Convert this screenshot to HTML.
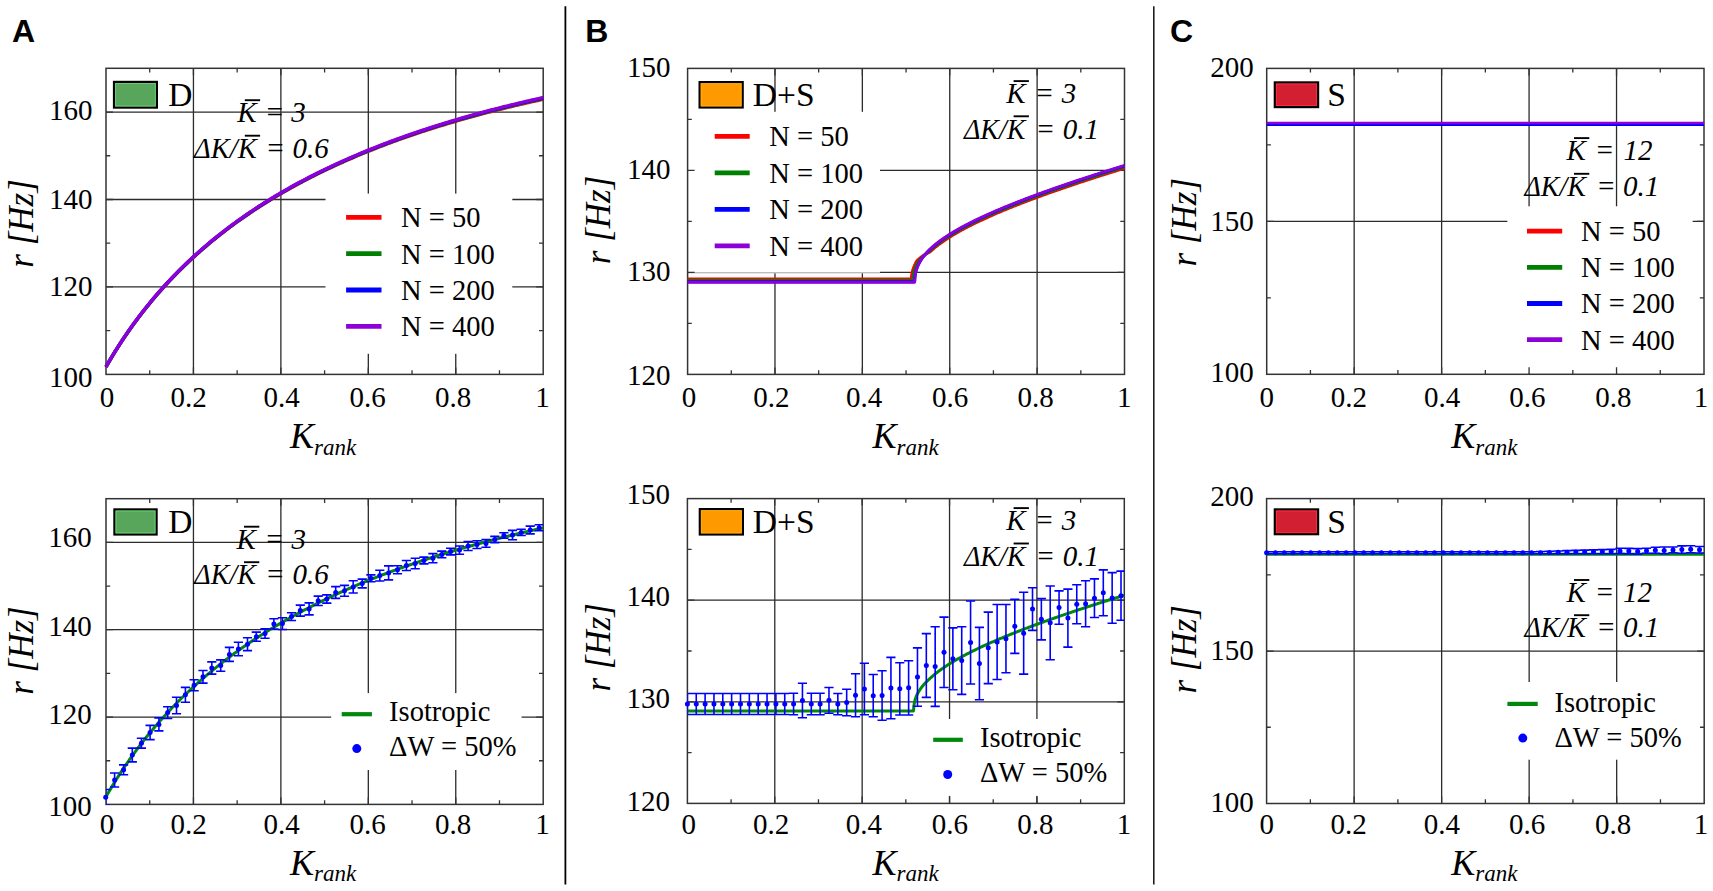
<!DOCTYPE html>
<html><head><meta charset="utf-8"><title>Figure</title>
<style>html,body{margin:0;padding:0;background:#fff;}svg{display:block;}</style></head>
<body><svg width="1713" height="891" viewBox="0 0 1713 891">
<rect x="0" y="0" width="1713" height="891" fill="#fff"/>
<line x1="565.4" y1="6.2" x2="565.4" y2="884.5" stroke="#000" stroke-width="1.8"/>
<line x1="1153.8" y1="6.2" x2="1153.8" y2="884.5" stroke="#111" stroke-width="1.5"/>
<text x="12.00" y="42.00" font-family="'Liberation Sans',Arial,sans-serif" font-size="32" text-anchor="start" font-weight="bold" style="" >A</text>
<text x="585.30" y="42.00" font-family="'Liberation Sans',Arial,sans-serif" font-size="32" text-anchor="start" font-weight="bold" style="" >B</text>
<text x="1170.00" y="42.00" font-family="'Liberation Sans',Arial,sans-serif" font-size="32" text-anchor="start" font-weight="bold" style="" >C</text>
<line x1="193.44" y1="68.30" x2="193.44" y2="374.40" stroke="#2b2b2b" stroke-width="1.3"/>
<line x1="280.88" y1="68.30" x2="280.88" y2="374.40" stroke="#2b2b2b" stroke-width="1.3"/>
<line x1="368.32" y1="68.30" x2="368.32" y2="374.40" stroke="#2b2b2b" stroke-width="1.3"/>
<line x1="455.76" y1="68.30" x2="455.76" y2="374.40" stroke="#2b2b2b" stroke-width="1.3"/>
<line x1="106.00" y1="286.94" x2="543.20" y2="286.94" stroke="#2b2b2b" stroke-width="1.3"/>
<line x1="106.00" y1="199.49" x2="543.20" y2="199.49" stroke="#2b2b2b" stroke-width="1.3"/>
<line x1="106.00" y1="112.03" x2="543.20" y2="112.03" stroke="#2b2b2b" stroke-width="1.3"/>
<rect x="325.50" y="193.60" width="186.80" height="160.20" fill="#fff"/>
<path d="M149.72,68.30v4.2M149.72,374.40v-4.2M237.16,68.30v4.2M237.16,374.40v-4.2M324.60,68.30v4.2M324.60,374.40v-4.2M412.04,68.30v4.2M412.04,374.40v-4.2M499.48,68.30v4.2M499.48,374.40v-4.2M106.00,330.67h4.2M543.20,330.67h-4.2M106.00,243.21h4.2M543.20,243.21h-4.2M106.00,155.76h4.2M543.20,155.76h-4.2M193.44,68.30v7.0M193.44,374.40v-7.0M280.88,68.30v7.0M280.88,374.40v-7.0M368.32,68.30v7.0M368.32,374.40v-7.0M455.76,68.30v7.0M455.76,374.40v-7.0M106.00,286.94h7.0M543.20,286.94h-7.0M106.00,199.49h7.0M543.20,199.49h-7.0M106.00,112.03h7.0M543.20,112.03h-7.0" stroke="#333" stroke-width="1.3" fill="none"/>
<rect x="106.00" y="68.30" width="437.20" height="306.10" fill="none" stroke="#333" stroke-width="1.5"/>
<polyline points="106.00,366.99 107.82,363.83 109.64,360.72 111.47,357.67 113.29,354.67 115.11,351.72 116.93,348.82 118.75,345.96 120.57,343.14 122.39,340.38 124.22,337.65 126.04,334.97 127.86,332.32 129.68,329.72 131.50,327.15 133.32,324.62 135.15,322.13 136.97,319.67 138.79,317.25 140.61,314.86 142.43,312.50 144.25,310.18 146.08,307.89 147.90,305.63 149.72,303.39 151.54,301.19 153.36,299.02 155.19,296.87 157.01,294.75 158.83,292.66 160.65,290.60 162.47,288.56 164.29,286.54 166.12,284.55 167.94,282.59 169.76,280.64 171.58,278.72 173.40,276.83 175.22,274.95 177.05,273.10 178.87,271.27 180.69,269.46 182.51,267.67 184.33,265.90 186.15,264.15 187.98,262.42 189.80,260.71 191.62,259.02 193.44,257.34 195.26,255.68 197.08,254.05 198.91,252.43 200.73,250.82 202.55,249.23 204.37,247.66 206.19,246.11 208.01,244.57 209.84,243.05 211.66,241.54 213.48,240.05 215.30,238.57 217.12,237.11 218.94,235.66 220.77,234.23 222.59,232.81 224.41,231.40 226.23,230.01 228.05,228.63 229.87,227.26 231.69,225.91 233.52,224.57 235.34,223.24 237.16,221.93 238.98,220.63 240.80,219.34 242.62,218.06 244.45,216.79 246.27,215.53 248.09,214.29 249.91,213.06 251.73,211.83 253.56,210.62 255.38,209.42 257.20,208.23 259.02,207.05 260.84,205.88 262.66,204.73 264.49,203.58 266.31,202.44 268.13,201.31 269.95,200.19 271.77,199.08 273.59,197.98 275.42,196.89 277.24,195.81 279.06,194.73 280.88,193.67 282.70,192.61 284.52,191.57 286.35,190.53 288.17,189.50 289.99,188.48 291.81,187.46 293.63,186.46 295.45,185.46 297.28,184.47 299.10,183.49 300.92,182.52 302.74,181.56 304.56,180.60 306.38,179.65 308.21,178.71 310.03,177.77 311.85,176.84 313.67,175.92 315.49,175.01 317.31,174.10 319.13,173.20 320.96,172.31 322.78,171.42 324.60,170.54 326.42,169.67 328.24,168.81 330.06,167.95 331.89,167.09 333.71,166.25 335.53,165.41 337.35,164.57 339.17,163.75 341.00,162.92 342.82,162.11 344.64,161.30 346.46,160.50 348.28,159.70 350.10,158.91 351.93,158.12 353.75,157.34 355.57,156.56 357.39,155.79 359.21,155.03 361.03,154.27 362.86,153.52 364.68,152.77 366.50,152.03 368.32,151.29 370.14,150.56 371.96,149.84 373.79,149.11 375.61,148.40 377.43,147.69 379.25,146.98 381.07,146.28 382.89,145.58 384.72,144.89 386.54,144.20 388.36,143.52 390.18,142.84 392.00,142.17 393.82,141.50 395.65,140.84 397.47,140.18 399.29,139.52 401.11,138.87 402.93,138.23 404.75,137.59 406.58,136.95 408.40,136.32 410.22,135.69 412.04,135.06 413.86,134.44 415.68,133.83 417.51,133.22 419.33,132.61 421.15,132.00 422.97,131.41 424.79,130.81 426.61,130.22 428.44,129.63 430.26,129.05 432.08,128.47 433.90,127.89 435.72,127.32 437.54,126.75 439.37,126.18 441.19,125.62 443.01,125.06 444.83,124.51 446.65,123.96 448.47,123.41 450.30,122.87 452.12,122.33 453.94,121.79 455.76,121.26 457.58,120.73 459.40,120.20 461.23,119.68 463.05,119.16 464.87,118.65 466.69,118.13 468.51,117.62 470.33,117.12 472.16,116.62 473.98,116.12 475.80,115.62 477.62,115.13 479.44,114.64 481.26,114.15 483.09,113.66 484.91,113.18 486.73,112.71 488.55,112.23 490.37,111.76 492.19,111.29 494.02,110.82 495.84,110.36 497.66,109.90 499.48,109.44 501.30,108.99 503.12,108.54 504.95,108.09 506.77,107.64 508.59,107.20 510.41,106.76 512.23,106.32 514.05,105.89 515.88,105.46 517.70,105.03 519.52,104.60 521.34,104.18 523.16,103.76 524.98,103.34 526.81,102.92 528.63,102.51 530.45,102.10 532.27,101.69 534.09,101.28 535.91,100.88 537.74,100.48 539.56,100.08 541.38,99.68 543.20,99.29" fill="none" stroke="#ff0000" stroke-width="3.4" stroke-linejoin="round" stroke-linecap="butt"/>
<polyline points="106.00,366.89 107.82,363.73 109.64,360.62 111.47,357.56 113.29,354.56 115.11,351.61 116.93,348.70 118.75,345.84 120.57,343.02 122.39,340.25 124.22,337.53 126.04,334.84 127.86,332.19 129.68,329.58 131.50,327.02 133.32,324.48 135.15,321.99 136.97,319.53 138.79,317.10 140.61,314.71 142.43,312.35 144.25,310.03 146.08,307.73 147.90,305.47 149.72,303.23 151.54,301.03 153.36,298.85 155.19,296.70 157.01,294.58 158.83,292.49 160.65,290.42 162.47,288.38 164.29,286.36 166.12,284.37 167.94,282.40 169.76,280.46 171.58,278.53 173.40,276.64 175.22,274.76 177.05,272.90 178.87,271.07 180.69,269.26 182.51,267.46 184.33,265.69 186.15,263.94 187.98,262.21 189.80,260.49 191.62,258.80 193.44,257.12 195.26,255.46 197.08,253.82 198.91,252.20 200.73,250.59 202.55,249.00 204.37,247.43 206.19,245.87 208.01,244.33 209.84,242.81 211.66,241.30 213.48,239.80 215.30,238.32 217.12,236.86 218.94,235.41 220.77,233.97 222.59,232.55 224.41,231.14 226.23,229.74 228.05,228.36 229.87,226.99 231.69,225.64 233.52,224.30 235.34,222.97 237.16,221.65 238.98,220.34 240.80,219.05 242.62,217.77 244.45,216.50 246.27,215.24 248.09,213.99 249.91,212.76 251.73,211.53 253.56,210.32 255.38,209.12 257.20,207.93 259.02,206.74 260.84,205.57 262.66,204.41 264.49,203.26 266.31,202.12 268.13,200.99 269.95,199.86 271.77,198.75 273.59,197.65 275.42,196.55 277.24,195.47 279.06,194.39 280.88,193.33 282.70,192.27 284.52,191.22 286.35,190.18 288.17,189.15 289.99,188.12 291.81,187.11 293.63,186.10 295.45,185.10 297.28,184.11 299.10,183.13 300.92,182.15 302.74,181.19 304.56,180.23 306.38,179.27 308.21,178.33 310.03,177.39 311.85,176.46 313.67,175.54 315.49,174.62 317.31,173.71 319.13,172.81 320.96,171.91 322.78,171.03 324.60,170.14 326.42,169.27 328.24,168.40 330.06,167.54 331.89,166.68 333.71,165.84 335.53,164.99 337.35,164.16 339.17,163.33 341.00,162.50 342.82,161.68 344.64,160.87 346.46,160.07 348.28,159.27 350.10,158.47 351.93,157.68 353.75,156.90 355.57,156.12 357.39,155.35 359.21,154.58 361.03,153.82 362.86,153.07 364.68,152.32 366.50,151.57 368.32,150.83 370.14,150.10 371.96,149.37 373.79,148.65 375.61,147.93 377.43,147.21 379.25,146.50 381.07,145.80 382.89,145.10 384.72,144.41 386.54,143.72 388.36,143.03 390.18,142.35 392.00,141.68 393.82,141.01 395.65,140.34 397.47,139.68 399.29,139.02 401.11,138.37 402.93,137.72 404.75,137.08 406.58,136.44 408.40,135.80 410.22,135.17 412.04,134.54 413.86,133.92 415.68,133.30 417.51,132.69 419.33,132.08 421.15,131.47 422.97,130.87 424.79,130.27 426.61,129.68 428.44,129.09 430.26,128.50 432.08,127.92 433.90,127.34 435.72,126.76 437.54,126.19 439.37,125.63 441.19,125.06 443.01,124.50 444.83,123.94 446.65,123.39 448.47,122.84 450.30,122.30 452.12,121.75 453.94,121.22 455.76,120.68 457.58,120.15 459.40,119.62 461.23,119.09 463.05,118.57 464.87,118.05 466.69,117.54 468.51,117.03 470.33,116.52 472.16,116.01 473.98,115.51 475.80,115.01 477.62,114.52 479.44,114.02 481.26,113.53 483.09,113.05 484.91,112.56 486.73,112.08 488.55,111.61 490.37,111.13 492.19,110.66 494.02,110.19 495.84,109.73 497.66,109.26 499.48,108.80 501.30,108.35 503.12,107.89 504.95,107.44 506.77,106.99 508.59,106.55 510.41,106.11 512.23,105.67 514.05,105.23 515.88,104.79 517.70,104.36 519.52,103.93 521.34,103.51 523.16,103.08 524.98,102.66 526.81,102.24 528.63,101.83 530.45,101.41 532.27,101.00 534.09,100.59 535.91,100.19 537.74,99.79 539.56,99.38 541.38,98.99 543.20,98.59" fill="none" stroke="#008000" stroke-width="3.4" stroke-linejoin="round" stroke-linecap="butt"/>
<polyline points="106.00,366.79 107.82,363.62 109.64,360.52 111.47,357.46 113.29,354.45 115.11,351.50 116.93,348.59 118.75,345.73 120.57,342.91 122.39,340.14 124.22,337.41 126.04,334.72 127.86,332.07 129.68,329.46 131.50,326.89 133.32,324.36 135.15,321.86 136.97,319.40 138.79,316.97 140.61,314.58 142.43,312.22 144.25,309.89 146.08,307.60 147.90,305.33 149.72,303.09 151.54,300.89 153.36,298.71 155.19,296.56 157.01,294.44 158.83,292.34 160.65,290.27 162.47,288.23 164.29,286.21 166.12,284.21 167.94,282.24 169.76,280.30 171.58,278.37 173.40,276.47 175.22,274.60 177.05,272.74 178.87,270.90 180.69,269.09 182.51,267.29 184.33,265.52 186.15,263.77 187.98,262.03 189.80,260.32 191.62,258.62 193.44,256.94 195.26,255.28 197.08,253.64 198.91,252.01 200.73,250.40 202.55,248.81 204.37,247.24 206.19,245.68 208.01,244.14 209.84,242.61 211.66,241.10 213.48,239.60 215.30,238.12 217.12,236.65 218.94,235.20 220.77,233.76 222.59,232.34 224.41,230.93 226.23,229.53 228.05,228.15 229.87,226.78 231.69,225.42 233.52,224.08 235.34,222.75 237.16,221.43 238.98,220.12 240.80,218.83 242.62,217.54 244.45,216.27 246.27,215.01 248.09,213.76 249.91,212.53 251.73,211.30 253.56,210.09 255.38,208.88 257.20,207.69 259.02,206.50 260.84,205.33 262.66,204.17 264.49,203.01 266.31,201.87 268.13,200.74 269.95,199.61 271.77,198.50 273.59,197.40 275.42,196.30 277.24,195.21 279.06,194.14 280.88,193.07 282.70,192.01 284.52,190.96 286.35,189.92 288.17,188.88 289.99,187.86 291.81,186.84 293.63,185.83 295.45,184.83 297.28,183.84 299.10,182.85 300.92,181.88 302.74,180.91 304.56,179.94 306.38,178.99 308.21,178.04 310.03,177.10 311.85,176.17 313.67,175.25 315.49,174.33 317.31,173.42 319.13,172.51 320.96,171.62 322.78,170.73 324.60,169.84 326.42,168.97 328.24,168.10 330.06,167.23 331.89,166.38 333.71,165.53 335.53,164.68 337.35,163.84 339.17,163.01 341.00,162.19 342.82,161.37 344.64,160.55 346.46,159.75 348.28,158.94 350.10,158.15 351.93,157.36 353.75,156.57 355.57,155.79 357.39,155.02 359.21,154.25 361.03,153.49 362.86,152.73 364.68,151.98 366.50,151.23 368.32,150.49 370.14,149.76 371.96,149.03 373.79,148.30 375.61,147.58 377.43,146.87 379.25,146.15 381.07,145.45 382.89,144.75 384.72,144.05 386.54,143.36 388.36,142.67 390.18,141.99 392.00,141.32 393.82,140.64 395.65,139.98 397.47,139.31 399.29,138.65 401.11,138.00 402.93,137.35 404.75,136.70 406.58,136.06 408.40,135.43 410.22,134.79 412.04,134.16 413.86,133.54 415.68,132.92 417.51,132.30 419.33,131.69 421.15,131.08 422.97,130.48 424.79,129.88 426.61,129.28 428.44,128.69 430.26,128.10 432.08,127.52 433.90,126.94 435.72,126.36 437.54,125.79 439.37,125.22 441.19,124.65 443.01,124.09 444.83,123.53 446.65,122.98 448.47,122.43 450.30,121.88 452.12,121.34 453.94,120.80 455.76,120.26 457.58,119.73 459.40,119.20 461.23,118.67 463.05,118.15 464.87,117.63 466.69,117.11 468.51,116.60 470.33,116.09 472.16,115.58 473.98,115.07 475.80,114.57 477.62,114.08 479.44,113.58 481.26,113.09 483.09,112.60 484.91,112.12 486.73,111.64 488.55,111.16 490.37,110.68 492.19,110.21 494.02,109.74 495.84,109.27 497.66,108.81 499.48,108.34 501.30,107.89 503.12,107.43 504.95,106.98 506.77,106.53 508.59,106.08 510.41,105.64 512.23,105.19 514.05,104.76 515.88,104.32 517.70,103.89 519.52,103.46 521.34,103.03 523.16,102.60 524.98,102.18 526.81,101.76 528.63,101.34 530.45,100.93 532.27,100.51 534.09,100.10 535.91,99.70 537.74,99.29 539.56,98.89 541.38,98.49 543.20,98.09" fill="none" stroke="#0000ff" stroke-width="3.4" stroke-linejoin="round" stroke-linecap="butt"/>
<polyline points="106.00,366.69 107.82,363.52 109.64,360.41 111.47,357.35 113.29,354.35 115.11,351.39 116.93,348.48 118.75,345.62 120.57,342.80 122.39,340.02 124.22,337.29 126.04,334.60 127.86,331.95 129.68,329.34 131.50,326.77 133.32,324.23 135.15,321.74 136.97,319.27 138.79,316.84 140.61,314.45 142.43,312.09 144.25,309.76 146.08,307.46 147.90,305.19 149.72,302.95 151.54,300.75 153.36,298.57 155.19,296.41 157.01,294.29 158.83,292.19 160.65,290.12 162.47,288.08 164.29,286.06 166.12,284.06 167.94,282.09 169.76,280.14 171.58,278.21 173.40,276.31 175.22,274.43 177.05,272.57 178.87,270.74 180.69,268.92 182.51,267.12 184.33,265.35 186.15,263.59 187.98,261.86 189.80,260.14 191.62,258.44 193.44,256.76 195.26,255.10 197.08,253.45 198.91,251.83 200.73,250.22 202.55,248.62 204.37,247.05 206.19,245.49 208.01,243.94 209.84,242.42 211.66,240.90 213.48,239.40 215.30,237.92 217.12,236.45 218.94,235.00 220.77,233.56 222.59,232.13 224.41,230.72 226.23,229.32 228.05,227.94 229.87,226.57 231.69,225.21 233.52,223.86 235.34,222.53 237.16,221.21 238.98,219.90 240.80,218.60 242.62,217.32 244.45,216.05 246.27,214.78 248.09,213.53 249.91,212.30 251.73,211.07 253.56,209.85 255.38,208.64 257.20,207.45 259.02,206.26 260.84,205.09 262.66,203.92 264.49,202.77 266.31,201.62 268.13,200.49 269.95,199.36 271.77,198.25 273.59,197.14 275.42,196.04 277.24,194.96 279.06,193.88 280.88,192.81 282.70,191.75 284.52,190.69 286.35,189.65 288.17,188.61 289.99,187.59 291.81,186.57 293.63,185.56 295.45,184.56 297.28,183.56 299.10,182.58 300.92,181.60 302.74,180.63 304.56,179.66 306.38,178.71 308.21,177.76 310.03,176.82 311.85,175.88 313.67,174.96 315.49,174.04 317.31,173.13 319.13,172.22 320.96,171.32 322.78,170.43 324.60,169.54 326.42,168.67 328.24,167.79 330.06,166.93 331.89,166.07 333.71,165.22 335.53,164.37 337.35,163.53 339.17,162.70 341.00,161.87 342.82,161.05 344.64,160.24 346.46,159.43 348.28,158.62 350.10,157.82 351.93,157.03 353.75,156.25 355.57,155.47 357.39,154.69 359.21,153.92 361.03,153.16 362.86,152.40 364.68,151.64 366.50,150.90 368.32,150.15 370.14,149.42 371.96,148.68 373.79,147.96 375.61,147.23 377.43,146.52 379.25,145.80 381.07,145.10 382.89,144.39 384.72,143.70 386.54,143.00 388.36,142.32 390.18,141.63 392.00,140.95 393.82,140.28 395.65,139.61 397.47,138.95 399.29,138.29 401.11,137.63 402.93,136.98 404.75,136.33 406.58,135.69 408.40,135.05 410.22,134.41 412.04,133.78 413.86,133.16 415.68,132.54 417.51,131.92 419.33,131.31 421.15,130.70 422.97,130.09 424.79,129.49 426.61,128.89 428.44,128.30 430.26,127.71 432.08,127.12 433.90,126.54 435.72,125.96 437.54,125.39 439.37,124.82 441.19,124.25 443.01,123.68 444.83,123.12 446.65,122.57 448.47,122.02 450.30,121.47 452.12,120.92 453.94,120.38 455.76,119.84 457.58,119.30 459.40,118.77 461.23,118.24 463.05,117.72 464.87,117.20 466.69,116.68 468.51,116.16 470.33,115.65 472.16,115.14 473.98,114.64 475.80,114.14 477.62,113.64 479.44,113.14 481.26,112.65 483.09,112.16 484.91,111.67 486.73,111.19 488.55,110.71 490.37,110.23 492.19,109.75 494.02,109.28 495.84,108.81 497.66,108.35 499.48,107.88 501.30,107.42 503.12,106.97 504.95,106.51 506.77,106.06 508.59,105.61 510.41,105.17 512.23,104.72 514.05,104.28 515.88,103.84 517.70,103.41 519.52,102.98 521.34,102.55 523.16,102.12 524.98,101.70 526.81,101.27 528.63,100.85 530.45,100.44 532.27,100.02 534.09,99.61 535.91,99.20 537.74,98.80 539.56,98.39 541.38,97.99 543.20,97.59" fill="none" stroke="#8e00d8" stroke-width="3.4" stroke-linejoin="round" stroke-linecap="butt"/>
<rect x="114.00" y="81.90" width="42.90" height="25.70" fill="#58a65c" stroke="#000" stroke-width="2.2"/>
<rect x="115.60" y="83.50" width="39.70" height="22.50" fill="none" stroke="#68cf6e" stroke-width="1"/>
<text x="168.20" y="106.00" font-family="'Liberation Serif','Times New Roman',serif" font-size="33.5" text-anchor="start" font-weight="normal" style="" >D</text>
<text x="256.70" y="122.40" font-family="'Liberation Serif','Times New Roman',serif" font-size="29" text-anchor="end" font-weight="normal" style="font-style:italic;" >K</text>
<text x="256.70" y="157.90" font-family="'Liberation Serif','Times New Roman',serif" font-size="29" text-anchor="end" style="font-style:italic" textLength="62.6" lengthAdjust="spacingAndGlyphs">&#916;K/K</text>
<line x1="244.80" y1="100.20" x2="260.10" y2="100.20" stroke="#000" stroke-width="1.9"/>
<line x1="244.80" y1="135.70" x2="260.10" y2="135.70" stroke="#000" stroke-width="1.9"/>
<text x="264.70" y="122.40" font-family="'Liberation Serif','Times New Roman',serif" font-size="29" text-anchor="start" font-weight="normal" style="font-style:italic;" >=</text>
<text x="265.40" y="157.90" font-family="'Liberation Serif','Times New Roman',serif" font-size="29" text-anchor="start" font-weight="normal" style="font-style:italic;" >=</text>
<text x="291.30" y="122.40" font-family="'Liberation Serif','Times New Roman',serif" font-size="29" text-anchor="start" font-weight="normal" style="font-style:italic;" >3</text>
<text x="292.60" y="157.90" font-family="'Liberation Serif','Times New Roman',serif" font-size="29" text-anchor="start" font-weight="normal" style="font-style:italic;" >0.6</text>
<line x1="346.10" y1="217.40" x2="381.50" y2="217.40" stroke="#ff0000" stroke-width="4.8"/>
<text x="401.00" y="227.30" font-family="'Liberation Serif','Times New Roman',serif" font-size="28.5" text-anchor="start" font-weight="normal" style="" >N = 50</text>
<line x1="346.10" y1="253.70" x2="381.50" y2="253.70" stroke="#008000" stroke-width="4.8"/>
<text x="401.00" y="263.60" font-family="'Liberation Serif','Times New Roman',serif" font-size="28.5" text-anchor="start" font-weight="normal" style="" >N = 100</text>
<line x1="346.10" y1="290.00" x2="381.50" y2="290.00" stroke="#0000ff" stroke-width="4.8"/>
<text x="401.00" y="299.90" font-family="'Liberation Serif','Times New Roman',serif" font-size="28.5" text-anchor="start" font-weight="normal" style="" >N = 200</text>
<line x1="346.10" y1="326.30" x2="381.50" y2="326.30" stroke="#8e00d8" stroke-width="4.8"/>
<text x="401.00" y="336.20" font-family="'Liberation Serif','Times New Roman',serif" font-size="28.5" text-anchor="start" font-weight="normal" style="" >N = 400</text>
<text x="92.40" y="119.90" font-family="'Liberation Serif','Times New Roman',serif" font-size="29" text-anchor="end" font-weight="normal" style="" >160</text>
<text x="92.40" y="208.90" font-family="'Liberation Serif','Times New Roman',serif" font-size="29" text-anchor="end" font-weight="normal" style="" >140</text>
<text x="92.40" y="296.10" font-family="'Liberation Serif','Times New Roman',serif" font-size="29" text-anchor="end" font-weight="normal" style="" >120</text>
<text x="92.40" y="386.70" font-family="'Liberation Serif','Times New Roman',serif" font-size="29" text-anchor="end" font-weight="normal" style="" >100</text>
<text x="106.90" y="406.50" font-family="'Liberation Serif','Times New Roman',serif" font-size="29" text-anchor="middle" font-weight="normal" style="" >0</text>
<text x="188.60" y="406.50" font-family="'Liberation Serif','Times New Roman',serif" font-size="29" text-anchor="middle" font-weight="normal" style="" >0.2</text>
<text x="281.70" y="406.50" font-family="'Liberation Serif','Times New Roman',serif" font-size="29" text-anchor="middle" font-weight="normal" style="" >0.4</text>
<text x="367.50" y="406.50" font-family="'Liberation Serif','Times New Roman',serif" font-size="29" text-anchor="middle" font-weight="normal" style="" >0.6</text>
<text x="453.20" y="406.50" font-family="'Liberation Serif','Times New Roman',serif" font-size="29" text-anchor="middle" font-weight="normal" style="" >0.8</text>
<text x="542.40" y="406.50" font-family="'Liberation Serif','Times New Roman',serif" font-size="29" text-anchor="middle" font-weight="normal" style="" >1</text>
<text x="323.20" y="448.40" font-family="'Liberation Serif','Times New Roman',serif" font-size="36" text-anchor="middle" style="font-style:italic">K<tspan font-size="23" dy="6.4">rank</tspan></text>
<text transform="translate(32.90,223.40) rotate(-90)" x="0" y="0" font-family="'Liberation Serif','Times New Roman',serif" font-size="35" text-anchor="middle" style="font-style:italic">r [Hz]</text>
<line x1="193.44" y1="498.70" x2="193.44" y2="804.40" stroke="#2b2b2b" stroke-width="1.3"/>
<line x1="280.88" y1="498.70" x2="280.88" y2="804.40" stroke="#2b2b2b" stroke-width="1.3"/>
<line x1="368.32" y1="498.70" x2="368.32" y2="804.40" stroke="#2b2b2b" stroke-width="1.3"/>
<line x1="455.76" y1="498.70" x2="455.76" y2="804.40" stroke="#2b2b2b" stroke-width="1.3"/>
<line x1="106.00" y1="717.06" x2="543.20" y2="717.06" stroke="#2b2b2b" stroke-width="1.3"/>
<line x1="106.00" y1="629.71" x2="543.20" y2="629.71" stroke="#2b2b2b" stroke-width="1.3"/>
<line x1="106.00" y1="542.37" x2="543.20" y2="542.37" stroke="#2b2b2b" stroke-width="1.3"/>
<rect x="331.20" y="693.10" width="190.40" height="76.90" fill="#fff"/>
<path d="M149.72,498.70v4.2M149.72,804.40v-4.2M237.16,498.70v4.2M237.16,804.40v-4.2M324.60,498.70v4.2M324.60,804.40v-4.2M412.04,498.70v4.2M412.04,804.40v-4.2M499.48,498.70v4.2M499.48,804.40v-4.2M106.00,760.73h4.2M543.20,760.73h-4.2M106.00,673.39h4.2M543.20,673.39h-4.2M106.00,586.04h4.2M543.20,586.04h-4.2M193.44,498.70v7.0M193.44,804.40v-7.0M280.88,498.70v7.0M280.88,804.40v-7.0M368.32,498.70v7.0M368.32,804.40v-7.0M455.76,498.70v7.0M455.76,804.40v-7.0M106.00,717.06h7.0M543.20,717.06h-7.0M106.00,629.71h7.0M543.20,629.71h-7.0M106.00,542.37h7.0M543.20,542.37h-7.0" stroke="#333" stroke-width="1.3" fill="none"/>
<rect x="106.00" y="498.70" width="437.20" height="305.70" fill="none" stroke="#333" stroke-width="1.5"/>
<polyline points="106.00,796.70 107.82,793.54 109.64,790.43 111.47,787.38 113.29,784.37 115.11,781.42 116.93,778.51 118.75,775.65 120.57,772.84 122.39,770.07 124.22,767.34 126.04,764.65 127.86,762.01 129.68,759.40 131.50,756.83 133.32,754.30 135.15,751.80 136.97,749.34 138.79,746.92 140.61,744.53 142.43,742.17 144.25,739.84 146.08,737.55 147.90,735.28 149.72,733.05 151.54,730.84 153.36,728.67 155.19,726.52 157.01,724.39 158.83,722.30 160.65,720.23 162.47,718.19 164.29,716.17 166.12,714.18 167.94,712.21 169.76,710.26 171.58,708.34 173.40,706.44 175.22,704.56 177.05,702.71 178.87,700.87 180.69,699.06 182.51,697.26 184.33,695.49 186.15,693.74 187.98,692.00 189.80,690.29 191.62,688.59 193.44,686.91 195.26,685.26 197.08,683.61 198.91,681.99 200.73,680.38 202.55,678.79 204.37,677.21 206.19,675.66 208.01,674.11 209.84,672.59 211.66,671.08 213.48,669.58 215.30,668.10 217.12,666.63 218.94,665.18 220.77,663.74 222.59,662.32 224.41,660.91 226.23,659.51 228.05,658.13 229.87,656.76 231.69,655.40 233.52,654.06 235.34,652.73 237.16,651.41 238.98,650.10 240.80,648.81 242.62,647.52 244.45,646.25 246.27,644.99 248.09,643.74 249.91,642.51 251.73,641.28 253.56,640.07 255.38,638.86 257.20,637.67 259.02,636.48 260.84,635.31 262.66,634.15 264.49,632.99 266.31,631.85 268.13,630.72 269.95,629.59 271.77,628.48 273.59,627.37 275.42,626.28 277.24,625.19 279.06,624.11 280.88,623.05 282.70,621.99 284.52,620.93 286.35,619.89 288.17,618.86 289.99,617.83 291.81,616.81 293.63,615.81 295.45,614.80 297.28,613.81 299.10,612.83 300.92,611.85 302.74,610.88 304.56,609.92 306.38,608.96 308.21,608.02 310.03,607.08 311.85,606.14 313.67,605.22 315.49,604.30 317.31,603.39 319.13,602.48 320.96,601.59 322.78,600.70 324.60,599.81 326.42,598.94 328.24,598.06 330.06,597.20 331.89,596.34 333.71,595.49 335.53,594.65 337.35,593.81 339.17,592.98 341.00,592.15 342.82,591.33 344.64,590.51 346.46,589.71 348.28,588.90 350.10,588.11 351.93,587.32 353.75,586.53 355.57,585.75 357.39,584.98 359.21,584.21 361.03,583.45 362.86,582.69 364.68,581.94 366.50,581.19 368.32,580.45 370.14,579.71 371.96,578.98 373.79,578.25 375.61,577.53 377.43,576.81 379.25,576.10 381.07,575.40 382.89,574.70 384.72,574.00 386.54,573.31 388.36,572.62 390.18,571.94 392.00,571.26 393.82,570.59 395.65,569.92 397.47,569.25 399.29,568.59 401.11,567.94 402.93,567.29 404.75,566.64 406.58,566.00 408.40,565.36 410.22,564.73 412.04,564.10 413.86,563.47 415.68,562.85 417.51,562.24 419.33,561.62 421.15,561.01 422.97,560.41 424.79,559.81 426.61,559.21 428.44,558.62 430.26,558.03 432.08,557.44 433.90,556.86 435.72,556.29 437.54,555.71 439.37,555.14 441.19,554.57 443.01,554.01 444.83,553.45 446.65,552.90 448.47,552.35 450.30,551.80 452.12,551.25 453.94,550.71 455.76,550.17 457.58,549.64 459.40,549.11 461.23,548.58 463.05,548.05 464.87,547.53 466.69,547.02 468.51,546.50 470.33,545.99 472.16,545.48 473.98,544.98 475.80,544.48 477.62,543.98 479.44,543.48 481.26,542.99 483.09,542.50 484.91,542.01 486.73,541.53 488.55,541.05 490.37,540.57 492.19,540.10 494.02,539.63 495.84,539.16 497.66,538.70 499.48,538.23 501.30,537.77 503.12,537.32 504.95,536.86 506.77,536.41 508.59,535.96 510.41,535.52 512.23,535.08 514.05,534.64 515.88,534.20 517.70,533.76 519.52,533.33 521.34,532.90 523.16,532.48 524.98,532.05 526.81,531.63 528.63,531.21 530.45,530.80 532.27,530.38 534.09,529.97 535.91,529.56 537.74,529.16 539.56,528.75 541.38,528.35 543.20,527.95" fill="none" stroke="#00880a" stroke-width="3.0" stroke-linejoin="round" stroke-linecap="butt"/>
<clipPath id="clip1"><rect x="106.00" y="498.70" width="437.20" height="305.70"/></clipPath>
<path d="M105.70,789.50V804.90M101.10,789.50H110.30M101.10,804.90H110.30M114.60,773.00V787.00M110.00,773.00H119.20M110.00,787.00H119.20M123.60,764.90V774.70M119.00,764.90H128.20M119.00,774.70H128.20M132.30,748.10V761.90M127.70,748.10H136.90M127.70,761.90H136.90M141.40,738.30V748.10M136.80,738.30H146.00M136.80,748.10H146.00M150.10,725.40V739.60M145.50,725.40H154.70M145.50,739.60H154.70M158.90,717.90V730.90M154.30,717.90H163.50M154.30,730.90H163.50M167.70,706.70V718.50M163.10,706.70H172.30M163.10,718.50H172.30M176.50,697.30V713.70M171.90,697.30H181.10M171.90,713.70H181.10M185.40,687.40V702.20M180.80,687.40H190.00M180.80,702.20H190.00M194.10,679.80V690.80M189.50,679.80H198.70M189.50,690.80H198.70M203.00,670.50V683.10M198.40,670.50H207.60M198.40,683.10H207.60M211.80,661.90V674.10M207.20,661.90H216.40M207.20,674.10H216.40M220.70,659.90V671.30M216.10,659.90H225.30M216.10,671.30H225.30M229.40,647.40V661.40M224.80,647.40H234.00M224.80,661.40H234.00M238.40,642.20V655.80M233.80,642.20H243.00M233.80,655.80H243.00M247.50,637.80V650.60M242.90,637.80H252.10M242.90,650.60H252.10M256.30,632.10V641.30M251.70,632.10H260.90M251.70,641.30H260.90M265.00,628.90V638.30M260.40,628.90H269.60M260.40,638.30H269.60M273.90,618.80V629.00M269.30,618.80H278.50M269.30,629.00H278.50M282.40,617.70V629.50M277.80,617.70H287.00M277.80,629.50H287.00M291.50,612.70V620.50M286.90,612.70H296.10M286.90,620.50H296.10M300.30,605.10V616.10M295.70,605.10H304.90M295.70,616.10H304.90M309.10,602.90V614.90M304.50,602.90H313.70M304.50,614.90H313.70M318.20,596.10V605.50M313.60,596.10H322.80M313.60,605.50H322.80M326.80,594.90V603.10M322.20,594.90H331.40M322.20,603.10H331.40M335.70,586.60V598.40M331.10,586.60H340.30M331.10,598.40H340.30M344.50,585.40V596.20M339.90,585.40H349.10M339.90,596.20H349.10M353.20,580.80V593.00M348.60,580.80H357.80M348.60,593.00H357.80M362.20,579.10V587.90M357.60,579.10H366.80M357.60,587.90H366.80M370.90,574.90V581.70M366.30,574.90H375.50M366.30,581.70H375.50M379.80,570.20V581.00M375.20,570.20H384.40M375.20,581.00H384.40M388.60,565.90V579.90M384.00,565.90H393.20M384.00,579.90H393.20M397.50,565.80V573.80M392.90,565.80H402.10M392.90,573.80H402.10M406.40,560.50V570.50M401.80,560.50H411.00M401.80,570.50H411.00M415.20,558.30V568.70M410.60,558.30H419.80M410.60,568.70H419.80M423.90,557.10V563.90M419.30,557.10H428.50M419.30,563.90H428.50M432.90,553.60V562.80M428.30,553.60H437.50M428.30,562.80H437.50M441.80,551.10V557.70M437.20,551.10H446.40M437.20,557.70H446.40M450.60,548.30V554.90M446.00,548.30H455.20M446.00,554.90H455.20M459.50,546.00V554.20M454.90,546.00H464.10M454.90,554.20H464.10M468.10,541.50V550.50M463.50,541.50H472.70M463.50,550.50H472.70M477.00,540.70V548.50M472.40,540.70H481.60M472.40,548.50H481.60M486.00,539.60V547.20M481.40,539.60H490.60M481.40,547.20H490.60M494.80,536.40V542.60M490.20,536.40H499.40M490.20,542.60H499.40M503.90,532.70V538.30M499.30,532.70H508.50M499.30,538.30H508.50M512.50,530.40V539.80M507.90,530.40H517.10M507.90,539.80H517.10M521.20,529.30V535.50M516.60,529.30H525.80M516.60,535.50H525.80M530.20,526.10V533.90M525.60,526.10H534.80M525.60,533.90H534.80M539.20,524.70V530.70M534.60,524.70H543.80M534.60,530.70H543.80" stroke="#0000ff" stroke-width="1.6" fill="none" clip-path="url(#clip1)"/>
<circle cx="105.70" cy="797.20" r="2.5" fill="#0000ff"/>
<circle cx="114.60" cy="780.00" r="2.5" fill="#0000ff"/>
<circle cx="123.60" cy="769.80" r="2.5" fill="#0000ff"/>
<circle cx="132.30" cy="755.00" r="2.5" fill="#0000ff"/>
<circle cx="141.40" cy="743.20" r="2.5" fill="#0000ff"/>
<circle cx="150.10" cy="732.50" r="2.5" fill="#0000ff"/>
<circle cx="158.90" cy="724.40" r="2.5" fill="#0000ff"/>
<circle cx="167.70" cy="712.60" r="2.5" fill="#0000ff"/>
<circle cx="176.50" cy="705.50" r="2.5" fill="#0000ff"/>
<circle cx="185.40" cy="694.80" r="2.5" fill="#0000ff"/>
<circle cx="194.10" cy="685.30" r="2.5" fill="#0000ff"/>
<circle cx="203.00" cy="676.80" r="2.5" fill="#0000ff"/>
<circle cx="211.80" cy="668.00" r="2.5" fill="#0000ff"/>
<circle cx="220.70" cy="665.60" r="2.5" fill="#0000ff"/>
<circle cx="229.40" cy="654.40" r="2.5" fill="#0000ff"/>
<circle cx="238.40" cy="649.00" r="2.5" fill="#0000ff"/>
<circle cx="247.50" cy="644.20" r="2.5" fill="#0000ff"/>
<circle cx="256.30" cy="636.70" r="2.5" fill="#0000ff"/>
<circle cx="265.00" cy="633.60" r="2.5" fill="#0000ff"/>
<circle cx="273.90" cy="623.90" r="2.5" fill="#0000ff"/>
<circle cx="282.40" cy="623.60" r="2.5" fill="#0000ff"/>
<circle cx="291.50" cy="616.60" r="2.5" fill="#0000ff"/>
<circle cx="300.30" cy="610.60" r="2.5" fill="#0000ff"/>
<circle cx="309.10" cy="608.90" r="2.5" fill="#0000ff"/>
<circle cx="318.20" cy="600.80" r="2.5" fill="#0000ff"/>
<circle cx="326.80" cy="599.00" r="2.5" fill="#0000ff"/>
<circle cx="335.70" cy="592.50" r="2.5" fill="#0000ff"/>
<circle cx="344.50" cy="590.80" r="2.5" fill="#0000ff"/>
<circle cx="353.20" cy="586.90" r="2.5" fill="#0000ff"/>
<circle cx="362.20" cy="583.50" r="2.5" fill="#0000ff"/>
<circle cx="370.90" cy="578.30" r="2.5" fill="#0000ff"/>
<circle cx="379.80" cy="575.60" r="2.5" fill="#0000ff"/>
<circle cx="388.60" cy="572.90" r="2.5" fill="#0000ff"/>
<circle cx="397.50" cy="569.80" r="2.5" fill="#0000ff"/>
<circle cx="406.40" cy="565.50" r="2.5" fill="#0000ff"/>
<circle cx="415.20" cy="563.50" r="2.5" fill="#0000ff"/>
<circle cx="423.90" cy="560.50" r="2.5" fill="#0000ff"/>
<circle cx="432.90" cy="558.20" r="2.5" fill="#0000ff"/>
<circle cx="441.80" cy="554.40" r="2.5" fill="#0000ff"/>
<circle cx="450.60" cy="551.60" r="2.5" fill="#0000ff"/>
<circle cx="459.50" cy="550.10" r="2.5" fill="#0000ff"/>
<circle cx="468.10" cy="546.00" r="2.5" fill="#0000ff"/>
<circle cx="477.00" cy="544.60" r="2.5" fill="#0000ff"/>
<circle cx="486.00" cy="543.40" r="2.5" fill="#0000ff"/>
<circle cx="494.80" cy="539.50" r="2.5" fill="#0000ff"/>
<circle cx="503.90" cy="535.50" r="2.5" fill="#0000ff"/>
<circle cx="512.50" cy="535.10" r="2.5" fill="#0000ff"/>
<circle cx="521.20" cy="532.40" r="2.5" fill="#0000ff"/>
<circle cx="530.20" cy="530.00" r="2.5" fill="#0000ff"/>
<circle cx="539.20" cy="527.70" r="2.5" fill="#0000ff"/>
<rect x="114.40" y="509.40" width="42.20" height="25.10" fill="#58a65c" stroke="#000" stroke-width="2.2"/>
<rect x="116.00" y="511.00" width="39.00" height="21.90" fill="none" stroke="#68cf6e" stroke-width="1"/>
<text x="168.20" y="533.10" font-family="'Liberation Serif','Times New Roman',serif" font-size="33.5" text-anchor="start" font-weight="normal" style="" >D</text>
<text x="255.90" y="548.90" font-family="'Liberation Serif','Times New Roman',serif" font-size="29" text-anchor="end" font-weight="normal" style="font-style:italic;" >K</text>
<text x="255.90" y="584.40" font-family="'Liberation Serif','Times New Roman',serif" font-size="29" text-anchor="end" style="font-style:italic" textLength="61.6" lengthAdjust="spacingAndGlyphs">&#916;K/K</text>
<line x1="244.00" y1="526.70" x2="259.30" y2="526.70" stroke="#000" stroke-width="1.9"/>
<line x1="244.00" y1="562.20" x2="259.30" y2="562.20" stroke="#000" stroke-width="1.9"/>
<text x="264.40" y="548.90" font-family="'Liberation Serif','Times New Roman',serif" font-size="29" text-anchor="start" font-weight="normal" style="font-style:italic;" >=</text>
<text x="265.20" y="584.40" font-family="'Liberation Serif','Times New Roman',serif" font-size="29" text-anchor="start" font-weight="normal" style="font-style:italic;" >=</text>
<text x="291.40" y="548.90" font-family="'Liberation Serif','Times New Roman',serif" font-size="29" text-anchor="start" font-weight="normal" style="font-style:italic;" >3</text>
<text x="292.50" y="584.40" font-family="'Liberation Serif','Times New Roman',serif" font-size="29" text-anchor="start" font-weight="normal" style="font-style:italic;" >0.6</text>
<line x1="341.70" y1="714.20" x2="371.90" y2="714.20" stroke="#00880a" stroke-width="4.2"/>
<circle cx="356.80" cy="748.60" r="4.5" fill="#0000ff"/>
<text x="389.10" y="720.70" font-family="'Liberation Serif','Times New Roman',serif" font-size="28.5" text-anchor="start" font-weight="normal" style="" >Isotropic</text>
<text x="389.10" y="756.20" font-family="'Liberation Serif','Times New Roman',serif" font-size="28.5" text-anchor="start" font-weight="normal" style="" >&#916;W = 50%</text>
<text x="91.80" y="547.20" font-family="'Liberation Serif','Times New Roman',serif" font-size="29" text-anchor="end" font-weight="normal" style="" >160</text>
<text x="91.80" y="636.20" font-family="'Liberation Serif','Times New Roman',serif" font-size="29" text-anchor="end" font-weight="normal" style="" >140</text>
<text x="91.80" y="724.10" font-family="'Liberation Serif','Times New Roman',serif" font-size="29" text-anchor="end" font-weight="normal" style="" >120</text>
<text x="91.80" y="815.90" font-family="'Liberation Serif','Times New Roman',serif" font-size="29" text-anchor="end" font-weight="normal" style="" >100</text>
<text x="106.90" y="833.50" font-family="'Liberation Serif','Times New Roman',serif" font-size="29" text-anchor="middle" font-weight="normal" style="" >0</text>
<text x="188.60" y="833.50" font-family="'Liberation Serif','Times New Roman',serif" font-size="29" text-anchor="middle" font-weight="normal" style="" >0.2</text>
<text x="281.70" y="833.50" font-family="'Liberation Serif','Times New Roman',serif" font-size="29" text-anchor="middle" font-weight="normal" style="" >0.4</text>
<text x="367.50" y="833.50" font-family="'Liberation Serif','Times New Roman',serif" font-size="29" text-anchor="middle" font-weight="normal" style="" >0.6</text>
<text x="453.20" y="833.50" font-family="'Liberation Serif','Times New Roman',serif" font-size="29" text-anchor="middle" font-weight="normal" style="" >0.8</text>
<text x="542.40" y="833.50" font-family="'Liberation Serif','Times New Roman',serif" font-size="29" text-anchor="middle" font-weight="normal" style="" >1</text>
<text x="323.20" y="875.00" font-family="'Liberation Serif','Times New Roman',serif" font-size="36" text-anchor="middle" style="font-style:italic">K<tspan font-size="23" dy="6.4">rank</tspan></text>
<text transform="translate(32.90,650.60) rotate(-90)" x="0" y="0" font-family="'Liberation Serif','Times New Roman',serif" font-size="35" text-anchor="middle" style="font-style:italic">r [Hz]</text>
<line x1="774.98" y1="68.40" x2="774.98" y2="374.40" stroke="#2b2b2b" stroke-width="1.3"/>
<line x1="862.36" y1="68.40" x2="862.36" y2="374.40" stroke="#2b2b2b" stroke-width="1.3"/>
<line x1="949.74" y1="68.40" x2="949.74" y2="374.40" stroke="#2b2b2b" stroke-width="1.3"/>
<line x1="1037.12" y1="68.40" x2="1037.12" y2="374.40" stroke="#2b2b2b" stroke-width="1.3"/>
<line x1="687.60" y1="272.40" x2="1124.50" y2="272.40" stroke="#2b2b2b" stroke-width="1.3"/>
<line x1="687.60" y1="170.40" x2="1124.50" y2="170.40" stroke="#2b2b2b" stroke-width="1.3"/>
<rect x="687.60" y="111.80" width="192.40" height="160.80" fill="#fff"/>
<line x1="687.60" y1="273.0" x2="880" y2="273.0" stroke="#ccc" stroke-width="1"/>
<path d="M731.29,68.40v4.2M731.29,374.40v-4.2M818.67,68.40v4.2M818.67,374.40v-4.2M906.05,68.40v4.2M906.05,374.40v-4.2M993.43,68.40v4.2M993.43,374.40v-4.2M1080.81,68.40v4.2M1080.81,374.40v-4.2M687.60,323.40h4.2M1124.50,323.40h-4.2M687.60,221.40h4.2M1124.50,221.40h-4.2M687.60,119.40h4.2M1124.50,119.40h-4.2M774.98,68.40v7.0M774.98,374.40v-7.0M862.36,68.40v7.0M862.36,374.40v-7.0M949.74,68.40v7.0M949.74,374.40v-7.0M1037.12,68.40v7.0M1037.12,374.40v-7.0M687.60,272.40h7.0M1124.50,272.40h-7.0M687.60,170.40h7.0M1124.50,170.40h-7.0" stroke="#333" stroke-width="1.3" fill="none"/>
<rect x="687.60" y="68.40" width="436.90" height="306.00" fill="none" stroke="#333" stroke-width="1.5"/>
<polyline points="687.60,279.03 688.69,279.03 689.79,279.03 690.88,279.03 691.98,279.03 693.07,279.03 694.17,279.03 695.26,279.03 696.36,279.03 697.45,279.03 698.55,279.03 699.64,279.03 700.74,279.03 701.83,279.03 702.93,279.03 704.02,279.03 705.12,279.03 706.21,279.03 707.31,279.03 708.40,279.03 709.50,279.03 710.59,279.03 711.69,279.03 712.78,279.03 713.88,279.03 714.97,279.03 716.07,279.03 717.16,279.03 718.26,279.03 719.35,279.03 720.45,279.03 721.54,279.03 722.64,279.03 723.73,279.03 724.83,279.03 725.92,279.03 727.02,279.03 728.11,279.03 729.21,279.03 730.30,279.03 731.40,279.03 732.49,279.03 733.59,279.03 734.68,279.03 735.78,279.03 736.87,279.03 737.97,279.03 739.06,279.03 740.16,279.03 741.25,279.03 742.35,279.03 743.44,279.03 744.54,279.03 745.63,279.03 746.73,279.03 747.82,279.03 748.92,279.03 750.01,279.03 751.11,279.03 752.20,279.03 753.30,279.03 754.39,279.03 755.49,279.03 756.58,279.03 757.68,279.03 758.77,279.03 759.87,279.03 760.96,279.03 762.06,279.03 763.15,279.03 764.25,279.03 765.34,279.03 766.44,279.03 767.53,279.03 768.63,279.03 769.72,279.03 770.82,279.03 771.91,279.03 773.01,279.03 774.10,279.03 775.20,279.03 776.29,279.03 777.39,279.03 778.48,279.03 779.58,279.03 780.67,279.03 781.77,279.03 782.86,279.03 783.96,279.03 785.05,279.03 786.15,279.03 787.24,279.03 788.34,279.03 789.43,279.03 790.53,279.03 791.62,279.03 792.72,279.03 793.81,279.03 794.91,279.03 796.00,279.03 797.10,279.03 798.19,279.03 799.29,279.03 800.38,279.03 801.48,279.03 802.57,279.03 803.67,279.03 804.76,279.03 805.86,279.03 806.95,279.03 808.05,279.03 809.14,279.03 810.24,279.03 811.33,279.03 812.43,279.03 813.52,279.03 814.62,279.03 815.71,279.03 816.81,279.03 817.90,279.03 819.00,279.03 820.09,279.03 821.19,279.03 822.28,279.03 823.38,279.03 824.47,279.03 825.57,279.03 826.66,279.03 827.76,279.03 828.85,279.03 829.95,279.03 831.04,279.03 832.14,279.03 833.23,279.03 834.33,279.03 835.42,279.03 836.52,279.03 837.61,279.03 838.71,279.03 839.80,279.03 840.90,279.03 841.99,279.03 843.09,279.03 844.18,279.03 845.28,279.03 846.37,279.03 847.47,279.03 848.56,279.03 849.66,279.03 850.75,279.03 851.85,279.03 852.94,279.03 854.04,279.03 855.13,279.03 856.23,279.03 857.32,279.03 858.42,279.03 859.51,279.03 860.61,279.03 861.70,279.03 862.80,279.03 863.89,279.03 864.99,279.03 866.08,279.03 867.18,279.03 868.27,279.03 869.37,279.03 870.46,279.03 871.56,279.03 872.65,279.03 873.75,279.03 874.84,279.03 875.94,279.03 877.03,279.03 878.13,279.03 879.22,279.03 880.32,279.03 881.41,279.03 882.51,279.03 883.60,279.03 884.70,279.03 885.79,279.03 886.89,279.03 887.98,279.03 889.08,279.03 890.17,279.03 891.27,279.03 892.36,279.03 893.46,279.03 894.55,279.03 895.65,279.03 896.74,279.03 897.84,279.03 898.93,279.03 900.03,279.03 901.12,279.03 902.22,279.03 903.31,279.03 904.41,279.03 905.50,279.03 906.05,279.03 906.18,279.03 906.31,279.03 906.45,279.03 906.58,279.03 906.60,279.03 906.71,279.03 906.84,279.03 906.97,279.03 907.10,279.03 907.24,279.03 907.37,279.03 907.50,279.03 907.63,279.03 907.69,279.03 907.76,279.03 907.89,279.03 908.03,279.03 908.16,279.03 908.29,279.03 908.42,279.03 908.55,279.03 908.68,279.03 908.79,279.03 908.82,279.03 908.95,279.03 909.08,279.03 909.21,279.03 909.34,279.03 909.47,279.03 909.61,279.03 909.74,279.03 909.87,279.03 909.88,279.03 910.00,279.03 910.13,279.03 910.27,279.03 910.40,279.03 910.53,279.03 910.66,279.03 910.79,279.03 910.92,279.03 910.98,279.03 911.06,279.03 911.19,279.03 911.32,278.37 911.45,277.02 911.58,275.95 911.71,275.04 911.85,274.25 911.98,273.53 912.07,273.06 912.11,272.88 912.24,272.28 912.37,271.72 912.50,271.19 912.64,270.70 912.77,270.22 912.90,269.78 913.03,269.35 913.16,268.93 913.17,268.92 913.30,268.54 913.43,268.15 913.56,267.79 913.69,267.43 913.82,267.08 913.95,266.74 914.09,266.42 914.22,266.10 914.26,265.99 914.35,265.79 914.48,265.48 914.61,265.19 914.74,264.90 914.88,264.61 915.01,264.33 915.14,264.06 915.27,263.80 915.36,263.62 915.40,263.53 915.53,263.28 915.67,263.02 915.80,262.77 915.93,262.53 916.06,262.29 916.19,262.05 916.32,261.82 916.45,261.59 916.46,261.59 916.59,261.36 916.72,261.14 916.85,260.92 916.98,260.71 917.12,260.58 917.25,260.45 917.38,260.32 917.51,260.19 917.55,260.16 917.64,260.07 917.77,259.95 917.91,259.82 918.04,259.70 918.17,259.58 918.30,259.47 918.43,259.35 918.56,259.23 918.64,259.17 918.70,259.12 918.83,259.01 918.96,258.89 919.09,258.78 919.22,258.67 919.35,258.56 919.49,258.45 919.62,258.35 919.74,258.25 919.75,258.24 919.88,258.13 920.01,258.03 920.14,257.93 920.28,257.82 920.41,257.72 920.54,257.62 920.67,257.52 920.80,257.42 920.83,257.40 920.94,257.32 921.07,257.22 921.20,257.13 921.33,257.03 921.46,256.93 921.59,256.84 921.73,256.75 921.86,256.65 921.93,256.60 921.99,256.56 922.12,256.47 922.25,256.38 922.38,256.28 922.52,256.19 922.65,256.11 922.78,256.02 922.91,255.93 923.02,255.85 923.04,255.84 923.17,255.75 923.31,255.67 923.44,255.58 923.57,255.50 923.70,255.41 923.83,255.33 923.97,255.24 924.10,255.16 924.12,255.15 924.23,255.08 924.36,255.00 924.49,254.92 924.62,254.83 924.76,254.75 924.89,254.67 925.02,254.59 925.15,254.52 925.21,254.48 925.28,254.44 925.41,254.36 925.55,254.28 925.68,254.20 925.81,254.13 925.94,254.05 926.07,253.98 926.20,253.90 926.31,253.84 926.34,253.83 926.47,253.75 926.60,253.68 926.73,253.60 926.86,253.53 926.99,253.46 927.13,253.39 927.26,253.31 927.39,253.24 927.40,253.24 927.52,253.17 927.65,253.10 927.79,253.03 927.92,252.96 928.05,252.89 928.18,252.82 928.31,252.75 928.44,252.68 928.50,252.66 928.58,252.61 928.71,252.55 928.84,252.48 928.97,252.41 929.10,252.34 929.23,252.28 929.37,252.21 929.50,252.15 929.59,252.10 929.63,252.08 929.76,252.02 929.89,251.95 930.02,251.89 930.16,251.79 930.29,251.66 930.42,251.54 930.55,251.41 930.68,251.29 930.69,251.29 930.81,251.17 930.95,251.05 931.08,250.92 931.21,250.80 931.34,250.68 931.47,250.56 931.61,250.44 931.74,250.32 931.78,250.28 931.87,250.20 932.00,250.09 932.13,249.97 932.26,249.85 932.88,249.31 933.97,248.37 935.07,247.46 936.16,246.57 937.26,245.71 938.35,244.86 939.45,244.04 940.54,243.24 941.64,242.45 942.73,241.68 943.83,240.92 944.92,240.17 946.02,239.44 947.11,238.73 948.21,238.02 949.30,237.32 950.40,236.64 951.49,235.96 952.59,235.30 953.68,234.64 954.78,233.99 955.87,233.36 956.97,232.72 958.06,232.10 959.16,231.48 960.25,230.87 961.35,230.27 962.44,229.67 963.54,229.08 964.63,228.50 965.73,227.92 966.82,227.35 967.92,226.78 969.01,226.22 970.11,225.66 971.20,225.11 972.30,224.56 973.39,224.02 974.49,223.48 975.58,222.94 976.68,222.41 977.77,221.88 978.87,221.36 979.96,220.84 981.06,220.33 982.15,219.82 983.25,219.31 984.34,218.80 985.44,218.30 986.53,217.80 987.63,217.31 988.72,216.82 989.82,216.33 990.91,215.84 992.01,215.36 993.10,214.88 994.20,214.40 995.29,213.93 996.39,213.45 997.48,212.99 998.58,212.52 999.67,212.05 1000.77,211.59 1001.86,211.13 1002.96,210.67 1004.05,210.22 1005.15,209.76 1006.24,209.31 1007.34,208.86 1008.43,208.42 1009.53,207.97 1010.62,207.53 1011.72,207.09 1012.81,206.65 1013.91,206.21 1015.00,205.78 1016.10,205.35 1017.19,204.91 1018.29,204.48 1019.38,204.06 1020.48,203.63 1021.57,203.21 1022.67,202.78 1023.76,202.36 1024.86,201.94 1025.95,201.52 1027.05,201.11 1028.14,200.69 1029.24,200.28 1030.33,199.87 1031.43,199.45 1032.52,199.05 1033.62,198.64 1034.71,198.23 1035.81,197.83 1036.90,197.42 1038.00,197.02 1039.09,196.62 1040.19,196.22 1041.28,195.82 1042.38,195.42 1043.47,195.03 1044.57,194.63 1045.66,194.24 1046.76,193.84 1047.85,193.45 1048.95,193.06 1050.04,192.67 1051.14,192.28 1052.23,191.90 1053.33,191.51 1054.42,191.13 1055.52,190.74 1056.61,190.36 1057.71,189.98 1058.80,189.60 1059.90,189.22 1060.99,188.84 1062.09,188.46 1063.18,188.09 1064.28,187.71 1065.37,187.33 1066.47,186.96 1067.56,186.59 1068.66,186.22 1069.75,185.84 1070.85,185.47 1071.94,185.10 1073.04,184.74 1074.13,184.37 1075.23,184.00 1076.32,183.64 1077.42,183.27 1078.51,182.91 1079.61,182.54 1080.70,182.18 1081.80,181.82 1082.89,181.46 1083.99,181.10 1085.08,180.74 1086.18,180.38 1087.27,180.02 1088.37,179.66 1089.46,179.31 1090.56,178.95 1091.65,178.60 1092.75,178.24 1093.84,177.89 1094.94,177.53 1096.03,177.18 1097.13,176.83 1098.22,176.48 1099.32,176.13 1100.41,175.78 1101.51,175.43 1102.60,175.08 1103.70,174.73 1104.79,174.39 1105.89,174.04 1106.98,173.70 1108.08,173.35 1109.17,173.01 1110.27,172.66 1111.36,172.32 1112.46,171.98 1113.55,171.63 1114.65,171.29 1115.74,170.95 1116.84,170.61 1117.93,170.27 1119.03,169.93 1120.12,169.59 1121.22,169.26 1122.31,168.92 1123.41,168.58 1124.50,168.25" fill="none" stroke="#ff0000" stroke-width="3.0" stroke-linejoin="round" stroke-linecap="butt"/>
<polyline points="687.60,280.56 688.69,280.56 689.79,280.56 690.88,280.56 691.98,280.56 693.07,280.56 694.17,280.56 695.26,280.56 696.36,280.56 697.45,280.56 698.55,280.56 699.64,280.56 700.74,280.56 701.83,280.56 702.93,280.56 704.02,280.56 705.12,280.56 706.21,280.56 707.31,280.56 708.40,280.56 709.50,280.56 710.59,280.56 711.69,280.56 712.78,280.56 713.88,280.56 714.97,280.56 716.07,280.56 717.16,280.56 718.26,280.56 719.35,280.56 720.45,280.56 721.54,280.56 722.64,280.56 723.73,280.56 724.83,280.56 725.92,280.56 727.02,280.56 728.11,280.56 729.21,280.56 730.30,280.56 731.40,280.56 732.49,280.56 733.59,280.56 734.68,280.56 735.78,280.56 736.87,280.56 737.97,280.56 739.06,280.56 740.16,280.56 741.25,280.56 742.35,280.56 743.44,280.56 744.54,280.56 745.63,280.56 746.73,280.56 747.82,280.56 748.92,280.56 750.01,280.56 751.11,280.56 752.20,280.56 753.30,280.56 754.39,280.56 755.49,280.56 756.58,280.56 757.68,280.56 758.77,280.56 759.87,280.56 760.96,280.56 762.06,280.56 763.15,280.56 764.25,280.56 765.34,280.56 766.44,280.56 767.53,280.56 768.63,280.56 769.72,280.56 770.82,280.56 771.91,280.56 773.01,280.56 774.10,280.56 775.20,280.56 776.29,280.56 777.39,280.56 778.48,280.56 779.58,280.56 780.67,280.56 781.77,280.56 782.86,280.56 783.96,280.56 785.05,280.56 786.15,280.56 787.24,280.56 788.34,280.56 789.43,280.56 790.53,280.56 791.62,280.56 792.72,280.56 793.81,280.56 794.91,280.56 796.00,280.56 797.10,280.56 798.19,280.56 799.29,280.56 800.38,280.56 801.48,280.56 802.57,280.56 803.67,280.56 804.76,280.56 805.86,280.56 806.95,280.56 808.05,280.56 809.14,280.56 810.24,280.56 811.33,280.56 812.43,280.56 813.52,280.56 814.62,280.56 815.71,280.56 816.81,280.56 817.90,280.56 819.00,280.56 820.09,280.56 821.19,280.56 822.28,280.56 823.38,280.56 824.47,280.56 825.57,280.56 826.66,280.56 827.76,280.56 828.85,280.56 829.95,280.56 831.04,280.56 832.14,280.56 833.23,280.56 834.33,280.56 835.42,280.56 836.52,280.56 837.61,280.56 838.71,280.56 839.80,280.56 840.90,280.56 841.99,280.56 843.09,280.56 844.18,280.56 845.28,280.56 846.37,280.56 847.47,280.56 848.56,280.56 849.66,280.56 850.75,280.56 851.85,280.56 852.94,280.56 854.04,280.56 855.13,280.56 856.23,280.56 857.32,280.56 858.42,280.56 859.51,280.56 860.61,280.56 861.70,280.56 862.80,280.56 863.89,280.56 864.99,280.56 866.08,280.56 867.18,280.56 868.27,280.56 869.37,280.56 870.46,280.56 871.56,280.56 872.65,280.56 873.75,280.56 874.84,280.56 875.94,280.56 877.03,280.56 878.13,280.56 879.22,280.56 880.32,280.56 881.41,280.56 882.51,280.56 883.60,280.56 884.70,280.56 885.79,280.56 886.89,280.56 887.98,280.56 889.08,280.56 890.17,280.56 891.27,280.56 892.36,280.56 893.46,280.56 894.55,280.56 895.65,280.56 896.74,280.56 897.84,280.56 898.93,280.56 900.03,280.56 901.12,280.56 902.22,280.56 903.31,280.56 904.41,280.56 905.50,280.56 906.05,280.56 906.18,280.56 906.31,280.56 906.45,280.56 906.58,280.56 906.60,280.56 906.71,280.56 906.84,280.56 906.97,280.56 907.10,280.56 907.24,280.56 907.37,280.56 907.50,280.56 907.63,280.56 907.69,280.56 907.76,280.56 907.89,280.56 908.03,280.56 908.16,280.56 908.29,280.56 908.42,280.56 908.55,280.56 908.68,280.56 908.79,280.56 908.82,280.56 908.95,280.56 909.08,280.56 909.21,280.56 909.34,280.56 909.47,280.56 909.61,280.56 909.74,280.56 909.87,280.56 909.88,280.56 910.00,280.56 910.13,280.56 910.27,280.56 910.40,280.56 910.53,280.56 910.66,280.56 910.79,280.56 910.92,280.56 910.98,280.56 911.06,280.56 911.19,280.56 911.32,280.56 911.45,280.56 911.58,280.56 911.71,280.56 911.85,280.56 911.98,280.56 912.07,280.56 912.11,280.56 912.24,280.56 912.37,280.56 912.50,280.56 912.64,280.56 912.77,280.56 912.90,280.56 913.03,278.81 913.16,277.35 913.17,277.31 913.30,276.22 913.43,275.27 913.56,274.45 913.69,273.72 913.82,273.05 913.95,272.44 914.09,271.86 914.22,271.33 914.26,271.15 914.35,270.83 914.48,270.35 914.61,269.89 914.74,269.46 914.88,269.04 915.01,268.64 915.14,268.26 915.27,267.88 915.36,267.64 915.40,267.52 915.53,267.17 915.67,266.83 915.80,266.50 915.93,266.18 916.06,265.87 916.19,265.56 916.32,265.26 916.45,264.98 916.46,264.97 916.59,264.69 916.72,264.41 916.85,264.13 916.98,263.87 917.12,263.66 917.25,263.44 917.38,263.24 917.51,263.03 917.55,262.98 917.64,262.83 917.77,262.64 917.91,262.44 918.04,262.25 918.17,262.06 918.30,261.87 918.43,261.69 918.56,261.51 918.64,261.40 918.70,261.33 918.83,261.15 918.96,260.98 919.09,260.80 919.22,260.63 919.35,260.46 919.49,260.30 919.62,260.13 919.74,259.98 919.75,259.97 919.88,259.81 920.01,259.65 920.14,259.49 920.28,259.34 920.41,259.18 920.54,259.03 920.67,258.88 920.80,258.73 920.83,258.69 920.94,258.58 921.07,258.43 921.20,258.29 921.33,258.14 921.46,258.00 921.59,257.86 921.73,257.72 921.86,257.58 921.93,257.50 921.99,257.44 922.12,257.30 922.25,257.17 922.38,257.03 922.52,256.90 922.65,256.76 922.78,256.63 922.91,256.50 923.02,256.39 923.04,256.37 923.17,256.24 923.31,256.12 923.44,255.99 923.57,255.86 923.70,255.74 923.83,255.62 923.97,255.49 924.10,255.37 924.12,255.35 924.23,255.25 924.36,255.13 924.49,255.01 924.62,254.89 924.76,254.77 924.89,254.66 925.02,254.54 925.15,254.42 925.21,254.37 925.28,254.31 925.41,254.19 925.55,254.08 925.68,253.97 925.81,253.86 925.94,253.74 926.07,253.63 926.20,253.52 926.31,253.44 926.34,253.41 926.47,253.30 926.60,253.20 926.73,253.09 926.86,252.98 926.99,252.87 927.13,252.77 927.26,252.66 927.39,252.56 927.40,252.55 927.52,252.45 927.65,252.35 927.79,252.25 927.92,252.15 928.05,252.04 928.18,251.94 928.31,251.84 928.44,251.74 928.50,251.70 928.58,251.64 928.71,251.54 928.84,251.44 928.97,251.34 929.10,251.25 929.23,251.15 929.37,251.05 929.50,250.95 929.59,250.89 929.63,250.86 929.76,250.76 929.89,250.67 930.02,250.57 930.16,250.46 930.29,250.34 930.42,250.21 930.55,250.09 930.68,249.96 930.69,249.96 930.81,249.84 930.95,249.72 931.08,249.60 931.21,249.48 931.34,249.36 931.47,249.24 931.61,249.12 931.74,249.00 931.78,248.96 931.87,248.88 932.00,248.76 932.13,248.64 932.26,248.53 932.88,247.99 933.97,247.05 935.07,246.13 936.16,245.25 937.26,244.38 938.35,243.54 939.45,242.72 940.54,241.91 941.64,241.12 942.73,240.35 943.83,239.59 944.92,238.85 946.02,238.12 947.11,237.40 948.21,236.69 949.30,236.00 950.40,235.31 951.49,234.64 952.59,233.97 953.68,233.32 954.78,232.67 955.87,232.03 956.97,231.40 958.06,230.77 959.16,230.16 960.25,229.55 961.35,228.94 962.44,228.35 963.54,227.76 964.63,227.17 965.73,226.59 966.82,226.02 967.92,225.45 969.01,224.89 970.11,224.33 971.20,223.78 972.30,223.23 973.39,222.69 974.49,222.15 975.58,221.62 976.68,221.08 977.77,220.56 978.87,220.04 979.96,219.52 981.06,219.00 982.15,218.49 983.25,217.98 984.34,217.48 985.44,216.98 986.53,216.48 987.63,215.98 988.72,215.49 989.82,215.00 990.91,214.52 992.01,214.03 993.10,213.55 994.20,213.08 995.29,212.60 996.39,212.13 997.48,211.66 998.58,211.19 999.67,210.73 1000.77,210.26 1001.86,209.81 1002.96,209.35 1004.05,208.89 1005.15,208.44 1006.24,207.99 1007.34,207.54 1008.43,207.09 1009.53,206.65 1010.62,206.20 1011.72,205.76 1012.81,205.33 1013.91,204.89 1015.00,204.45 1016.10,204.02 1017.19,203.59 1018.29,203.16 1019.38,202.73 1020.48,202.30 1021.57,201.88 1022.67,201.46 1023.76,201.04 1024.86,200.62 1025.95,200.20 1027.05,199.78 1028.14,199.37 1029.24,198.95 1030.33,198.54 1031.43,198.13 1032.52,197.72 1033.62,197.31 1034.71,196.90 1035.81,196.50 1036.90,196.10 1038.00,195.69 1039.09,195.29 1040.19,194.89 1041.28,194.49 1042.38,194.10 1043.47,193.70 1044.57,193.30 1045.66,192.91 1046.76,192.52 1047.85,192.13 1048.95,191.74 1050.04,191.35 1051.14,190.96 1052.23,190.57 1053.33,190.19 1054.42,189.80 1055.52,189.42 1056.61,189.03 1057.71,188.65 1058.80,188.27 1059.90,187.89 1060.99,187.51 1062.09,187.14 1063.18,186.76 1064.28,186.38 1065.37,186.01 1066.47,185.63 1067.56,185.26 1068.66,184.89 1069.75,184.52 1070.85,184.15 1071.94,183.78 1073.04,183.41 1074.13,183.04 1075.23,182.68 1076.32,182.31 1077.42,181.94 1078.51,181.58 1079.61,181.22 1080.70,180.85 1081.80,180.49 1082.89,180.13 1083.99,179.77 1085.08,179.41 1086.18,179.05 1087.27,178.69 1088.37,178.34 1089.46,177.98 1090.56,177.62 1091.65,177.27 1092.75,176.91 1093.84,176.56 1094.94,176.21 1096.03,175.86 1097.13,175.50 1098.22,175.15 1099.32,174.80 1100.41,174.45 1101.51,174.10 1102.60,173.76 1103.70,173.41 1104.79,173.06 1105.89,172.72 1106.98,172.37 1108.08,172.02 1109.17,171.68 1110.27,171.34 1111.36,170.99 1112.46,170.65 1113.55,170.31 1114.65,169.97 1115.74,169.63 1116.84,169.29 1117.93,168.95 1119.03,168.61 1120.12,168.27 1121.22,167.93 1122.31,167.59 1123.41,167.26 1124.50,166.92" fill="none" stroke="#008000" stroke-width="3.0" stroke-linejoin="round" stroke-linecap="butt"/>
<polyline points="687.60,281.78 688.69,281.78 689.79,281.78 690.88,281.78 691.98,281.78 693.07,281.78 694.17,281.78 695.26,281.78 696.36,281.78 697.45,281.78 698.55,281.78 699.64,281.78 700.74,281.78 701.83,281.78 702.93,281.78 704.02,281.78 705.12,281.78 706.21,281.78 707.31,281.78 708.40,281.78 709.50,281.78 710.59,281.78 711.69,281.78 712.78,281.78 713.88,281.78 714.97,281.78 716.07,281.78 717.16,281.78 718.26,281.78 719.35,281.78 720.45,281.78 721.54,281.78 722.64,281.78 723.73,281.78 724.83,281.78 725.92,281.78 727.02,281.78 728.11,281.78 729.21,281.78 730.30,281.78 731.40,281.78 732.49,281.78 733.59,281.78 734.68,281.78 735.78,281.78 736.87,281.78 737.97,281.78 739.06,281.78 740.16,281.78 741.25,281.78 742.35,281.78 743.44,281.78 744.54,281.78 745.63,281.78 746.73,281.78 747.82,281.78 748.92,281.78 750.01,281.78 751.11,281.78 752.20,281.78 753.30,281.78 754.39,281.78 755.49,281.78 756.58,281.78 757.68,281.78 758.77,281.78 759.87,281.78 760.96,281.78 762.06,281.78 763.15,281.78 764.25,281.78 765.34,281.78 766.44,281.78 767.53,281.78 768.63,281.78 769.72,281.78 770.82,281.78 771.91,281.78 773.01,281.78 774.10,281.78 775.20,281.78 776.29,281.78 777.39,281.78 778.48,281.78 779.58,281.78 780.67,281.78 781.77,281.78 782.86,281.78 783.96,281.78 785.05,281.78 786.15,281.78 787.24,281.78 788.34,281.78 789.43,281.78 790.53,281.78 791.62,281.78 792.72,281.78 793.81,281.78 794.91,281.78 796.00,281.78 797.10,281.78 798.19,281.78 799.29,281.78 800.38,281.78 801.48,281.78 802.57,281.78 803.67,281.78 804.76,281.78 805.86,281.78 806.95,281.78 808.05,281.78 809.14,281.78 810.24,281.78 811.33,281.78 812.43,281.78 813.52,281.78 814.62,281.78 815.71,281.78 816.81,281.78 817.90,281.78 819.00,281.78 820.09,281.78 821.19,281.78 822.28,281.78 823.38,281.78 824.47,281.78 825.57,281.78 826.66,281.78 827.76,281.78 828.85,281.78 829.95,281.78 831.04,281.78 832.14,281.78 833.23,281.78 834.33,281.78 835.42,281.78 836.52,281.78 837.61,281.78 838.71,281.78 839.80,281.78 840.90,281.78 841.99,281.78 843.09,281.78 844.18,281.78 845.28,281.78 846.37,281.78 847.47,281.78 848.56,281.78 849.66,281.78 850.75,281.78 851.85,281.78 852.94,281.78 854.04,281.78 855.13,281.78 856.23,281.78 857.32,281.78 858.42,281.78 859.51,281.78 860.61,281.78 861.70,281.78 862.80,281.78 863.89,281.78 864.99,281.78 866.08,281.78 867.18,281.78 868.27,281.78 869.37,281.78 870.46,281.78 871.56,281.78 872.65,281.78 873.75,281.78 874.84,281.78 875.94,281.78 877.03,281.78 878.13,281.78 879.22,281.78 880.32,281.78 881.41,281.78 882.51,281.78 883.60,281.78 884.70,281.78 885.79,281.78 886.89,281.78 887.98,281.78 889.08,281.78 890.17,281.78 891.27,281.78 892.36,281.78 893.46,281.78 894.55,281.78 895.65,281.78 896.74,281.78 897.84,281.78 898.93,281.78 900.03,281.78 901.12,281.78 902.22,281.78 903.31,281.78 904.41,281.78 905.50,281.78 906.05,281.78 906.18,281.78 906.31,281.78 906.45,281.78 906.58,281.78 906.60,281.78 906.71,281.78 906.84,281.78 906.97,281.78 907.10,281.78 907.24,281.78 907.37,281.78 907.50,281.78 907.63,281.78 907.69,281.78 907.76,281.78 907.89,281.78 908.03,281.78 908.16,281.78 908.29,281.78 908.42,281.78 908.55,281.78 908.68,281.78 908.79,281.78 908.82,281.78 908.95,281.78 909.08,281.78 909.21,281.78 909.34,281.78 909.47,281.78 909.61,281.78 909.74,281.78 909.87,281.78 909.88,281.78 910.00,281.78 910.13,281.78 910.27,281.78 910.40,281.78 910.53,281.78 910.66,281.78 910.79,281.78 910.92,281.78 910.98,281.78 911.06,281.78 911.19,281.78 911.32,281.78 911.45,281.78 911.58,281.78 911.71,281.78 911.85,281.78 911.98,281.78 912.07,281.78 912.11,281.78 912.24,281.78 912.37,281.78 912.50,281.78 912.64,281.78 912.77,281.78 912.90,281.78 913.03,281.78 913.16,281.78 913.17,281.78 913.30,281.78 913.43,281.78 913.56,281.78 913.69,281.78 913.82,281.78 913.95,281.78 914.09,281.78 914.22,281.78 914.26,281.78 914.35,281.78 914.48,281.78 914.61,281.78 914.74,279.30 914.88,277.70 915.01,276.50 915.14,275.51 915.27,274.66 915.36,274.16 915.40,273.90 915.53,273.22 915.67,272.59 915.80,272.01 915.93,271.47 916.06,270.96 916.19,270.47 916.32,270.01 916.45,269.59 916.46,269.57 916.59,269.15 916.72,268.75 916.85,268.36 916.98,267.98 917.12,267.62 917.25,267.27 917.38,266.94 917.51,266.61 917.55,266.52 917.64,266.29 917.77,265.98 917.91,265.67 918.04,265.38 918.17,265.09 918.30,264.80 918.43,264.53 918.56,264.26 918.64,264.10 918.70,263.99 918.83,263.73 918.96,263.47 919.09,263.22 919.22,262.98 919.35,262.73 919.49,262.49 919.62,262.26 919.74,262.05 919.75,262.03 919.88,261.80 920.01,261.58 920.14,261.35 920.28,261.14 920.41,260.92 920.54,260.71 920.67,260.50 920.80,260.29 920.83,260.25 920.94,260.09 921.07,259.89 921.20,259.69 921.33,259.49 921.46,259.30 921.59,259.10 921.73,258.91 921.86,258.73 921.93,258.63 921.99,258.54 922.12,258.35 922.25,258.17 922.38,257.99 922.52,257.81 922.65,257.64 922.78,257.46 922.91,257.29 923.02,257.14 923.04,257.11 923.17,256.94 923.31,256.77 923.44,256.61 923.57,256.44 923.70,256.28 923.83,256.11 923.97,255.95 924.10,255.79 924.12,255.76 924.23,255.63 924.36,255.47 924.49,255.31 924.62,255.16 924.76,255.00 924.89,254.85 925.02,254.70 925.15,254.55 925.21,254.48 925.28,254.40 925.41,254.25 925.55,254.10 925.68,253.95 925.81,253.81 925.94,253.66 926.07,253.52 926.20,253.37 926.31,253.26 926.34,253.23 926.47,253.09 926.60,252.95 926.73,252.81 926.86,252.67 926.99,252.53 927.13,252.40 927.26,252.26 927.39,252.12 927.40,252.11 927.52,251.99 927.65,251.86 927.79,251.72 927.92,251.59 928.05,251.46 928.18,251.33 928.31,251.20 928.44,251.07 928.50,251.01 928.58,250.94 928.71,250.81 928.84,250.68 928.97,250.56 929.10,250.43 929.23,250.30 929.37,250.18 929.50,250.05 929.59,249.97 929.63,249.93 929.76,249.81 929.89,249.69 930.02,249.56 930.16,249.44 930.29,249.32 930.42,249.19 930.55,249.07 930.68,248.94 930.69,248.94 930.81,248.82 930.95,248.70 931.08,248.58 931.21,248.46 931.34,248.34 931.47,248.22 931.61,248.10 931.74,247.98 931.78,247.94 931.87,247.86 932.00,247.74 932.13,247.62 932.26,247.51 932.88,246.97 933.97,246.03 935.07,245.11 936.16,244.23 937.26,243.36 938.35,242.52 939.45,241.70 940.54,240.89 941.64,240.10 942.73,239.33 943.83,238.57 944.92,237.83 946.02,237.10 947.11,236.38 948.21,235.67 949.30,234.98 950.40,234.29 951.49,233.62 952.59,232.95 953.68,232.30 954.78,231.65 955.87,231.01 956.97,230.38 958.06,229.75 959.16,229.14 960.25,228.53 961.35,227.92 962.44,227.33 963.54,226.74 964.63,226.15 965.73,225.57 966.82,225.00 967.92,224.43 969.01,223.87 970.11,223.31 971.20,222.76 972.30,222.21 973.39,221.67 974.49,221.13 975.58,220.60 976.68,220.06 977.77,219.54 978.87,219.02 979.96,218.50 981.06,217.98 982.15,217.47 983.25,216.96 984.34,216.46 985.44,215.96 986.53,215.46 987.63,214.96 988.72,214.47 989.82,213.98 990.91,213.50 992.01,213.01 993.10,212.53 994.20,212.06 995.29,211.58 996.39,211.11 997.48,210.64 998.58,210.17 999.67,209.71 1000.77,209.24 1001.86,208.79 1002.96,208.33 1004.05,207.87 1005.15,207.42 1006.24,206.97 1007.34,206.52 1008.43,206.07 1009.53,205.63 1010.62,205.18 1011.72,204.74 1012.81,204.31 1013.91,203.87 1015.00,203.43 1016.10,203.00 1017.19,202.57 1018.29,202.14 1019.38,201.71 1020.48,201.28 1021.57,200.86 1022.67,200.44 1023.76,200.02 1024.86,199.60 1025.95,199.18 1027.05,198.76 1028.14,198.35 1029.24,197.93 1030.33,197.52 1031.43,197.11 1032.52,196.70 1033.62,196.29 1034.71,195.88 1035.81,195.48 1036.90,195.08 1038.00,194.67 1039.09,194.27 1040.19,193.87 1041.28,193.47 1042.38,193.08 1043.47,192.68 1044.57,192.28 1045.66,191.89 1046.76,191.50 1047.85,191.11 1048.95,190.72 1050.04,190.33 1051.14,189.94 1052.23,189.55 1053.33,189.17 1054.42,188.78 1055.52,188.40 1056.61,188.01 1057.71,187.63 1058.80,187.25 1059.90,186.87 1060.99,186.49 1062.09,186.12 1063.18,185.74 1064.28,185.36 1065.37,184.99 1066.47,184.61 1067.56,184.24 1068.66,183.87 1069.75,183.50 1070.85,183.13 1071.94,182.76 1073.04,182.39 1074.13,182.02 1075.23,181.66 1076.32,181.29 1077.42,180.92 1078.51,180.56 1079.61,180.20 1080.70,179.83 1081.80,179.47 1082.89,179.11 1083.99,178.75 1085.08,178.39 1086.18,178.03 1087.27,177.67 1088.37,177.32 1089.46,176.96 1090.56,176.60 1091.65,176.25 1092.75,175.89 1093.84,175.54 1094.94,175.19 1096.03,174.84 1097.13,174.48 1098.22,174.13 1099.32,173.78 1100.41,173.43 1101.51,173.08 1102.60,172.74 1103.70,172.39 1104.79,172.04 1105.89,171.70 1106.98,171.35 1108.08,171.00 1109.17,170.66 1110.27,170.32 1111.36,169.97 1112.46,169.63 1113.55,169.29 1114.65,168.95 1115.74,168.61 1116.84,168.27 1117.93,167.93 1119.03,167.59 1120.12,167.25 1121.22,166.91 1122.31,166.57 1123.41,166.24 1124.50,165.90" fill="none" stroke="#0000ff" stroke-width="3.0" stroke-linejoin="round" stroke-linecap="butt"/>
<polyline points="687.60,282.19 688.69,282.19 689.79,282.19 690.88,282.19 691.98,282.19 693.07,282.19 694.17,282.19 695.26,282.19 696.36,282.19 697.45,282.19 698.55,282.19 699.64,282.19 700.74,282.19 701.83,282.19 702.93,282.19 704.02,282.19 705.12,282.19 706.21,282.19 707.31,282.19 708.40,282.19 709.50,282.19 710.59,282.19 711.69,282.19 712.78,282.19 713.88,282.19 714.97,282.19 716.07,282.19 717.16,282.19 718.26,282.19 719.35,282.19 720.45,282.19 721.54,282.19 722.64,282.19 723.73,282.19 724.83,282.19 725.92,282.19 727.02,282.19 728.11,282.19 729.21,282.19 730.30,282.19 731.40,282.19 732.49,282.19 733.59,282.19 734.68,282.19 735.78,282.19 736.87,282.19 737.97,282.19 739.06,282.19 740.16,282.19 741.25,282.19 742.35,282.19 743.44,282.19 744.54,282.19 745.63,282.19 746.73,282.19 747.82,282.19 748.92,282.19 750.01,282.19 751.11,282.19 752.20,282.19 753.30,282.19 754.39,282.19 755.49,282.19 756.58,282.19 757.68,282.19 758.77,282.19 759.87,282.19 760.96,282.19 762.06,282.19 763.15,282.19 764.25,282.19 765.34,282.19 766.44,282.19 767.53,282.19 768.63,282.19 769.72,282.19 770.82,282.19 771.91,282.19 773.01,282.19 774.10,282.19 775.20,282.19 776.29,282.19 777.39,282.19 778.48,282.19 779.58,282.19 780.67,282.19 781.77,282.19 782.86,282.19 783.96,282.19 785.05,282.19 786.15,282.19 787.24,282.19 788.34,282.19 789.43,282.19 790.53,282.19 791.62,282.19 792.72,282.19 793.81,282.19 794.91,282.19 796.00,282.19 797.10,282.19 798.19,282.19 799.29,282.19 800.38,282.19 801.48,282.19 802.57,282.19 803.67,282.19 804.76,282.19 805.86,282.19 806.95,282.19 808.05,282.19 809.14,282.19 810.24,282.19 811.33,282.19 812.43,282.19 813.52,282.19 814.62,282.19 815.71,282.19 816.81,282.19 817.90,282.19 819.00,282.19 820.09,282.19 821.19,282.19 822.28,282.19 823.38,282.19 824.47,282.19 825.57,282.19 826.66,282.19 827.76,282.19 828.85,282.19 829.95,282.19 831.04,282.19 832.14,282.19 833.23,282.19 834.33,282.19 835.42,282.19 836.52,282.19 837.61,282.19 838.71,282.19 839.80,282.19 840.90,282.19 841.99,282.19 843.09,282.19 844.18,282.19 845.28,282.19 846.37,282.19 847.47,282.19 848.56,282.19 849.66,282.19 850.75,282.19 851.85,282.19 852.94,282.19 854.04,282.19 855.13,282.19 856.23,282.19 857.32,282.19 858.42,282.19 859.51,282.19 860.61,282.19 861.70,282.19 862.80,282.19 863.89,282.19 864.99,282.19 866.08,282.19 867.18,282.19 868.27,282.19 869.37,282.19 870.46,282.19 871.56,282.19 872.65,282.19 873.75,282.19 874.84,282.19 875.94,282.19 877.03,282.19 878.13,282.19 879.22,282.19 880.32,282.19 881.41,282.19 882.51,282.19 883.60,282.19 884.70,282.19 885.79,282.19 886.89,282.19 887.98,282.19 889.08,282.19 890.17,282.19 891.27,282.19 892.36,282.19 893.46,282.19 894.55,282.19 895.65,282.19 896.74,282.19 897.84,282.19 898.93,282.19 900.03,282.19 901.12,282.19 902.22,282.19 903.31,282.19 904.41,282.19 905.50,282.19 906.05,282.19 906.18,282.19 906.31,282.19 906.45,282.19 906.58,282.19 906.60,282.19 906.71,282.19 906.84,282.19 906.97,282.19 907.10,282.19 907.24,282.19 907.37,282.19 907.50,282.19 907.63,282.19 907.69,282.19 907.76,282.19 907.89,282.19 908.03,282.19 908.16,282.19 908.29,282.19 908.42,282.19 908.55,282.19 908.68,282.19 908.79,282.19 908.82,282.19 908.95,282.19 909.08,282.19 909.21,282.19 909.34,282.19 909.47,282.19 909.61,282.19 909.74,282.19 909.87,282.19 909.88,282.19 910.00,282.19 910.13,282.19 910.27,282.19 910.40,282.19 910.53,282.19 910.66,282.19 910.79,282.19 910.92,282.19 910.98,282.19 911.06,282.19 911.19,282.19 911.32,282.19 911.45,282.19 911.58,282.19 911.71,282.19 911.85,282.19 911.98,282.19 912.07,282.19 912.11,282.19 912.24,282.19 912.37,282.19 912.50,282.19 912.64,282.19 912.77,282.19 912.90,282.19 913.03,282.19 913.16,282.19 913.17,282.19 913.30,282.19 913.43,282.19 913.56,282.19 913.69,282.19 913.82,282.19 913.95,282.19 914.09,282.19 914.22,282.19 914.26,282.19 914.35,282.19 914.48,282.19 914.61,282.13 914.74,279.30 914.88,277.70 915.01,276.50 915.14,275.51 915.27,274.66 915.36,274.16 915.40,273.90 915.53,273.22 915.67,272.59 915.80,272.01 915.93,271.47 916.06,270.96 916.19,270.47 916.32,270.01 916.45,269.59 916.46,269.57 916.59,269.15 916.72,268.75 916.85,268.36 916.98,267.98 917.12,267.62 917.25,267.26 917.38,266.92 917.51,266.59 917.55,266.50 917.64,266.27 917.77,265.95 917.91,265.64 918.04,265.34 918.17,265.05 918.30,264.76 918.43,264.48 918.56,264.21 918.64,264.05 918.70,263.94 918.83,263.67 918.96,263.41 919.09,263.16 919.22,262.91 919.35,262.66 919.49,262.42 919.62,262.18 919.74,261.96 919.75,261.94 919.88,261.71 920.01,261.48 920.14,261.26 920.28,261.03 920.41,260.81 920.54,260.60 920.67,260.38 920.80,260.17 920.83,260.13 920.94,259.97 921.07,259.76 921.20,259.56 921.33,259.36 921.46,259.16 921.59,258.96 921.73,258.77 921.86,258.57 921.93,258.47 921.99,258.38 922.12,258.19 922.25,258.01 922.38,257.82 922.52,257.64 922.65,257.46 922.78,257.28 922.91,257.10 923.02,256.95 923.04,256.92 923.17,256.75 923.31,256.58 923.44,256.40 923.57,256.23 923.70,256.07 923.83,255.90 923.97,255.73 924.10,255.57 924.12,255.54 924.23,255.40 924.36,255.24 924.49,255.08 924.62,254.92 924.76,254.76 924.89,254.60 925.02,254.45 925.15,254.29 925.21,254.22 925.28,254.14 925.41,253.98 925.55,253.83 925.68,253.68 925.81,253.53 925.94,253.38 926.07,253.23 926.20,253.09 926.31,252.97 926.34,252.94 926.47,252.79 926.60,252.65 926.73,252.51 926.86,252.36 926.99,252.22 927.13,252.08 927.26,251.94 927.39,251.80 927.40,251.79 927.52,251.66 927.65,251.52 927.79,251.39 927.92,251.25 928.05,251.11 928.18,250.98 928.31,250.84 928.44,250.71 928.50,250.66 928.58,250.58 928.71,250.44 928.84,250.31 928.97,250.18 929.10,250.05 929.23,249.92 929.37,249.79 929.50,249.67 929.59,249.57 929.63,249.54 929.76,249.41 929.89,249.28 930.02,249.16 930.16,249.03 930.29,248.91 930.42,248.78 930.55,248.66 930.68,248.54 930.69,248.53 930.81,248.41 930.95,248.29 931.08,248.17 931.21,248.05 931.34,247.93 931.47,247.81 931.61,247.69 931.74,247.57 931.78,247.53 931.87,247.45 932.00,247.33 932.13,247.21 932.26,247.10 932.88,246.56 933.97,245.62 935.07,244.71 936.16,243.82 937.26,242.95 938.35,242.11 939.45,241.29 940.54,240.48 941.64,239.69 942.73,238.92 943.83,238.16 944.92,237.42 946.02,236.69 947.11,235.97 948.21,235.26 949.30,234.57 950.40,233.88 951.49,233.21 952.59,232.54 953.68,231.89 954.78,231.24 955.87,230.60 956.97,229.97 958.06,229.35 959.16,228.73 960.25,228.12 961.35,227.52 962.44,226.92 963.54,226.33 964.63,225.75 965.73,225.17 966.82,224.59 967.92,224.03 969.01,223.46 970.11,222.91 971.20,222.35 972.30,221.80 973.39,221.26 974.49,220.72 975.58,220.19 976.68,219.66 977.77,219.13 978.87,218.61 979.96,218.09 981.06,217.57 982.15,217.06 983.25,216.55 984.34,216.05 985.44,215.55 986.53,215.05 987.63,214.55 988.72,214.06 989.82,213.57 990.91,213.09 992.01,212.61 993.10,212.13 994.20,211.65 995.29,211.17 996.39,210.70 997.48,210.23 998.58,209.76 999.67,209.30 1000.77,208.84 1001.86,208.38 1002.96,207.92 1004.05,207.46 1005.15,207.01 1006.24,206.56 1007.34,206.11 1008.43,205.66 1009.53,205.22 1010.62,204.78 1011.72,204.34 1012.81,203.90 1013.91,203.46 1015.00,203.02 1016.10,202.59 1017.19,202.16 1018.29,201.73 1019.38,201.30 1020.48,200.88 1021.57,200.45 1022.67,200.03 1023.76,199.61 1024.86,199.19 1025.95,198.77 1027.05,198.35 1028.14,197.94 1029.24,197.52 1030.33,197.11 1031.43,196.70 1032.52,196.29 1033.62,195.88 1034.71,195.48 1035.81,195.07 1036.90,194.67 1038.00,194.27 1039.09,193.86 1040.19,193.46 1041.28,193.07 1042.38,192.67 1043.47,192.27 1044.57,191.88 1045.66,191.48 1046.76,191.09 1047.85,190.70 1048.95,190.31 1050.04,189.92 1051.14,189.53 1052.23,189.14 1053.33,188.76 1054.42,188.37 1055.52,187.99 1056.61,187.61 1057.71,187.22 1058.80,186.84 1059.90,186.46 1060.99,186.09 1062.09,185.71 1063.18,185.33 1064.28,184.96 1065.37,184.58 1066.47,184.21 1067.56,183.83 1068.66,183.46 1069.75,183.09 1070.85,182.72 1071.94,182.35 1073.04,181.98 1074.13,181.61 1075.23,181.25 1076.32,180.88 1077.42,180.52 1078.51,180.15 1079.61,179.79 1080.70,179.43 1081.80,179.06 1082.89,178.70 1083.99,178.34 1085.08,177.98 1086.18,177.62 1087.27,177.27 1088.37,176.91 1089.46,176.55 1090.56,176.20 1091.65,175.84 1092.75,175.49 1093.84,175.13 1094.94,174.78 1096.03,174.43 1097.13,174.08 1098.22,173.73 1099.32,173.38 1100.41,173.03 1101.51,172.68 1102.60,172.33 1103.70,171.98 1104.79,171.63 1105.89,171.29 1106.98,170.94 1108.08,170.60 1109.17,170.25 1110.27,169.91 1111.36,169.57 1112.46,169.22 1113.55,168.88 1114.65,168.54 1115.74,168.20 1116.84,167.86 1117.93,167.52 1119.03,167.18 1120.12,166.84 1121.22,166.50 1122.31,166.16 1123.41,165.83 1124.50,165.49" fill="none" stroke="#8e00d8" stroke-width="3.0" stroke-linejoin="round" stroke-linecap="butt"/>
<rect x="699.60" y="82.10" width="43.10" height="25.40" fill="#ff9900" stroke="#000" stroke-width="2.2"/>
<rect x="701.20" y="83.70" width="39.90" height="22.20" fill="none" stroke="#ffab10" stroke-width="1"/>
<text x="752.80" y="106.10" font-family="'Liberation Serif','Times New Roman',serif" font-size="33.5" text-anchor="start" font-weight="normal" style="" >D+S</text>
<text x="1025.50" y="103.30" font-family="'Liberation Serif','Times New Roman',serif" font-size="29" text-anchor="end" font-weight="normal" style="font-style:italic;" >K</text>
<text x="1025.50" y="138.50" font-family="'Liberation Serif','Times New Roman',serif" font-size="29" text-anchor="end" style="font-style:italic" textLength="61.6" lengthAdjust="spacingAndGlyphs">&#916;K/K</text>
<line x1="1013.60" y1="81.10" x2="1028.90" y2="81.10" stroke="#000" stroke-width="1.9"/>
<line x1="1013.60" y1="116.30" x2="1028.90" y2="116.30" stroke="#000" stroke-width="1.9"/>
<text x="1034.40" y="103.30" font-family="'Liberation Serif','Times New Roman',serif" font-size="29" text-anchor="start" font-weight="normal" style="font-style:italic;" >=</text>
<text x="1035.40" y="138.50" font-family="'Liberation Serif','Times New Roman',serif" font-size="29" text-anchor="start" font-weight="normal" style="font-style:italic;" >=</text>
<text x="1061.70" y="103.30" font-family="'Liberation Serif','Times New Roman',serif" font-size="29" text-anchor="start" font-weight="normal" style="font-style:italic;" >3</text>
<text x="1062.70" y="138.50" font-family="'Liberation Serif','Times New Roman',serif" font-size="29" text-anchor="start" font-weight="normal" style="font-style:italic;" >0.1</text>
<line x1="714.70" y1="136.40" x2="749.70" y2="136.40" stroke="#ff0000" stroke-width="4.8"/>
<text x="769.30" y="146.30" font-family="'Liberation Serif','Times New Roman',serif" font-size="28.5" text-anchor="start" font-weight="normal" style="" >N = 50</text>
<line x1="714.70" y1="172.90" x2="749.70" y2="172.90" stroke="#008000" stroke-width="4.8"/>
<text x="769.30" y="182.80" font-family="'Liberation Serif','Times New Roman',serif" font-size="28.5" text-anchor="start" font-weight="normal" style="" >N = 100</text>
<line x1="714.70" y1="209.40" x2="749.70" y2="209.40" stroke="#0000ff" stroke-width="4.8"/>
<text x="769.30" y="219.30" font-family="'Liberation Serif','Times New Roman',serif" font-size="28.5" text-anchor="start" font-weight="normal" style="" >N = 200</text>
<line x1="714.70" y1="245.90" x2="749.70" y2="245.90" stroke="#8e00d8" stroke-width="4.8"/>
<text x="769.30" y="255.80" font-family="'Liberation Serif','Times New Roman',serif" font-size="28.5" text-anchor="start" font-weight="normal" style="" >N = 400</text>
<text x="670.40" y="76.80" font-family="'Liberation Serif','Times New Roman',serif" font-size="29" text-anchor="end" font-weight="normal" style="" >150</text>
<text x="670.40" y="179.20" font-family="'Liberation Serif','Times New Roman',serif" font-size="29" text-anchor="end" font-weight="normal" style="" >140</text>
<text x="670.40" y="280.80" font-family="'Liberation Serif','Times New Roman',serif" font-size="29" text-anchor="end" font-weight="normal" style="" >130</text>
<text x="670.40" y="384.60" font-family="'Liberation Serif','Times New Roman',serif" font-size="29" text-anchor="end" font-weight="normal" style="" >120</text>
<text x="688.90" y="406.50" font-family="'Liberation Serif','Times New Roman',serif" font-size="29" text-anchor="middle" font-weight="normal" style="" >0</text>
<text x="771.40" y="406.50" font-family="'Liberation Serif','Times New Roman',serif" font-size="29" text-anchor="middle" font-weight="normal" style="" >0.2</text>
<text x="864.10" y="406.50" font-family="'Liberation Serif','Times New Roman',serif" font-size="29" text-anchor="middle" font-weight="normal" style="" >0.4</text>
<text x="950.10" y="406.50" font-family="'Liberation Serif','Times New Roman',serif" font-size="29" text-anchor="middle" font-weight="normal" style="" >0.6</text>
<text x="1035.60" y="406.50" font-family="'Liberation Serif','Times New Roman',serif" font-size="29" text-anchor="middle" font-weight="normal" style="" >0.8</text>
<text x="1124.20" y="406.50" font-family="'Liberation Serif','Times New Roman',serif" font-size="29" text-anchor="middle" font-weight="normal" style="" >1</text>
<text x="905.60" y="448.40" font-family="'Liberation Serif','Times New Roman',serif" font-size="36" text-anchor="middle" style="font-style:italic">K<tspan font-size="23" dy="6.4">rank</tspan></text>
<text transform="translate(610.20,219.90) rotate(-90)" x="0" y="0" font-family="'Liberation Serif','Times New Roman',serif" font-size="35" text-anchor="middle" style="font-style:italic">r [Hz]</text>
<line x1="774.78" y1="498.60" x2="774.78" y2="803.40" stroke="#2b2b2b" stroke-width="1.3"/>
<line x1="862.16" y1="498.60" x2="862.16" y2="803.40" stroke="#2b2b2b" stroke-width="1.3"/>
<line x1="949.54" y1="498.60" x2="949.54" y2="803.40" stroke="#2b2b2b" stroke-width="1.3"/>
<line x1="1036.92" y1="498.60" x2="1036.92" y2="803.40" stroke="#2b2b2b" stroke-width="1.3"/>
<line x1="687.40" y1="701.80" x2="1124.30" y2="701.80" stroke="#2b2b2b" stroke-width="1.3"/>
<line x1="687.40" y1="600.20" x2="1124.30" y2="600.20" stroke="#2b2b2b" stroke-width="1.3"/>
<rect x="922.10" y="719.00" width="190.40" height="76.90" fill="#fff"/>
<path d="M731.09,498.60v4.2M731.09,803.40v-4.2M818.47,498.60v4.2M818.47,803.40v-4.2M905.85,498.60v4.2M905.85,803.40v-4.2M993.23,498.60v4.2M993.23,803.40v-4.2M1080.61,498.60v4.2M1080.61,803.40v-4.2M687.40,752.60h4.2M1124.30,752.60h-4.2M687.40,651.00h4.2M1124.30,651.00h-4.2M687.40,549.40h4.2M1124.30,549.40h-4.2M774.78,498.60v7.0M774.78,803.40v-7.0M862.16,498.60v7.0M862.16,803.40v-7.0M949.54,498.60v7.0M949.54,803.40v-7.0M1036.92,498.60v7.0M1036.92,803.40v-7.0M687.40,701.80h7.0M1124.30,701.80h-7.0M687.40,600.20h7.0M1124.30,600.20h-7.0" stroke="#333" stroke-width="1.3" fill="none"/>
<rect x="687.40" y="498.60" width="436.90" height="304.80" fill="none" stroke="#333" stroke-width="1.5"/>
<polyline points="687.40,710.94 688.49,710.94 689.59,710.94 690.68,710.94 691.78,710.94 692.87,710.94 693.97,710.94 695.06,710.94 696.16,710.94 697.25,710.94 698.35,710.94 699.44,710.94 700.54,710.94 701.63,710.94 702.73,710.94 703.82,710.94 704.92,710.94 706.01,710.94 707.11,710.94 708.20,710.94 709.30,710.94 710.39,710.94 711.49,710.94 712.58,710.94 713.68,710.94 714.77,710.94 715.87,710.94 716.96,710.94 718.06,710.94 719.15,710.94 720.25,710.94 721.34,710.94 722.44,710.94 723.53,710.94 724.63,710.94 725.72,710.94 726.82,710.94 727.91,710.94 729.01,710.94 730.10,710.94 731.20,710.94 732.29,710.94 733.39,710.94 734.48,710.94 735.58,710.94 736.67,710.94 737.77,710.94 738.86,710.94 739.96,710.94 741.05,710.94 742.15,710.94 743.24,710.94 744.34,710.94 745.43,710.94 746.53,710.94 747.62,710.94 748.72,710.94 749.81,710.94 750.91,710.94 752.00,710.94 753.10,710.94 754.19,710.94 755.29,710.94 756.38,710.94 757.48,710.94 758.57,710.94 759.67,710.94 760.76,710.94 761.86,710.94 762.95,710.94 764.05,710.94 765.14,710.94 766.24,710.94 767.33,710.94 768.43,710.94 769.52,710.94 770.62,710.94 771.71,710.94 772.81,710.94 773.90,710.94 775.00,710.94 776.09,710.94 777.19,710.94 778.28,710.94 779.38,710.94 780.47,710.94 781.57,710.94 782.66,710.94 783.76,710.94 784.85,710.94 785.95,710.94 787.04,710.94 788.14,710.94 789.23,710.94 790.33,710.94 791.42,710.94 792.52,710.94 793.61,710.94 794.71,710.94 795.80,710.94 796.90,710.94 797.99,710.94 799.09,710.94 800.18,710.94 801.28,710.94 802.37,710.94 803.47,710.94 804.56,710.94 805.66,710.94 806.75,710.94 807.85,710.94 808.94,710.94 810.04,710.94 811.13,710.94 812.23,710.94 813.32,710.94 814.42,710.94 815.51,710.94 816.61,710.94 817.70,710.94 818.80,710.94 819.89,710.94 820.99,710.94 822.08,710.94 823.18,710.94 824.27,710.94 825.37,710.94 826.46,710.94 827.56,710.94 828.65,710.94 829.75,710.94 830.84,710.94 831.94,710.94 833.03,710.94 834.13,710.94 835.22,710.94 836.32,710.94 837.41,710.94 838.51,710.94 839.60,710.94 840.70,710.94 841.79,710.94 842.89,710.94 843.98,710.94 845.08,710.94 846.17,710.94 847.27,710.94 848.36,710.94 849.46,710.94 850.55,710.94 851.65,710.94 852.74,710.94 853.84,710.94 854.93,710.94 856.03,710.94 857.12,710.94 858.22,710.94 859.31,710.94 860.41,710.94 861.50,710.94 862.60,710.94 863.69,710.94 864.79,710.94 865.88,710.94 866.98,710.94 868.07,710.94 869.17,710.94 870.26,710.94 871.36,710.94 872.45,710.94 873.55,710.94 874.64,710.94 875.74,710.94 876.83,710.94 877.93,710.94 879.02,710.94 880.12,710.94 881.21,710.94 882.31,710.94 883.40,710.94 884.50,710.94 885.59,710.94 886.69,710.94 887.78,710.94 888.88,710.94 889.97,710.94 891.07,710.94 892.16,710.94 893.26,710.94 894.35,710.94 895.45,710.94 896.54,710.94 897.64,710.94 898.73,710.94 899.83,710.94 900.92,710.94 902.02,710.94 903.11,710.94 904.21,710.94 905.30,710.94 905.85,710.94 905.98,710.94 906.11,710.94 906.25,710.94 906.38,710.94 906.40,710.94 906.51,710.94 906.64,710.94 906.77,710.94 906.90,710.94 907.04,710.94 907.17,710.94 907.30,710.94 907.43,710.94 907.49,710.94 907.56,710.94 907.69,710.94 907.83,710.94 907.96,710.94 908.09,710.94 908.22,710.94 908.35,710.94 908.48,710.94 908.59,710.94 908.62,710.94 908.75,710.94 908.88,710.94 909.01,710.94 909.14,710.94 909.27,710.94 909.41,710.94 909.54,710.94 909.67,710.94 909.68,710.94 909.80,710.94 909.93,710.94 910.07,710.94 910.20,710.94 910.33,710.94 910.46,710.94 910.59,710.94 910.72,710.94 910.78,710.94 910.86,710.94 910.99,710.94 911.12,710.94 911.25,710.94 911.38,710.94 911.51,710.94 911.65,710.94 911.78,710.94 911.87,710.94 911.91,710.94 912.04,710.94 912.17,710.94 912.30,710.94 912.44,710.94 912.57,710.94 912.70,710.94 912.83,710.94 912.96,710.94 912.97,710.94 913.10,710.94 913.23,710.94 913.36,710.94 913.49,710.94 913.62,709.45 913.75,707.60 913.89,706.29 914.02,705.24 914.06,704.92 914.15,704.35 914.28,703.57 914.41,702.86 914.54,702.22 914.68,701.62 914.81,701.07 914.94,700.55 915.07,700.05 915.16,699.75 915.20,699.59 915.33,699.14 915.47,698.72 915.60,698.31 915.73,697.91 915.86,697.53 915.99,697.17 916.12,696.81 916.25,696.48 916.26,696.47 916.39,696.13 916.52,695.81 916.65,695.49 916.78,695.18 916.92,694.90 917.05,694.63 917.18,694.36 917.31,694.09 917.35,694.02 917.44,693.83 917.57,693.58 917.71,693.33 917.84,693.08 917.97,692.84 918.10,692.60 918.23,692.37 918.36,692.14 918.44,692.00 918.50,691.91 918.63,691.69 918.76,691.47 918.89,691.25 919.02,691.04 919.15,690.83 919.29,690.62 919.42,690.41 919.54,690.23 919.55,690.21 919.68,690.01 919.81,689.81 919.94,689.62 920.08,689.42 920.21,689.23 920.34,689.04 920.47,688.85 920.60,688.67 920.63,688.63 920.74,688.49 920.87,688.30 921.00,688.12 921.13,687.95 921.26,687.77 921.39,687.60 921.53,687.42 921.66,687.25 921.73,687.16 921.79,687.08 921.92,686.91 922.05,686.75 922.18,686.58 922.32,686.42 922.45,686.25 922.58,686.09 922.71,685.93 922.82,685.80 922.84,685.77 922.97,685.61 923.11,685.46 923.24,685.30 923.37,685.15 923.50,685.00 923.63,684.84 923.77,684.69 923.90,684.54 923.92,684.52 924.03,684.39 924.16,684.25 924.29,684.10 924.42,683.95 924.56,683.81 924.69,683.67 924.82,683.52 924.95,683.38 925.01,683.32 925.08,683.24 925.21,683.10 925.35,682.96 925.48,682.82 925.61,682.68 925.74,682.55 925.87,682.41 926.00,682.28 926.11,682.17 926.14,682.14 926.27,682.01 926.40,681.88 926.53,681.74 926.66,681.61 926.79,681.48 926.93,681.35 927.06,681.22 927.19,681.09 927.20,681.08 927.32,680.96 927.45,680.84 927.59,680.71 927.72,680.58 927.85,680.46 927.98,680.33 928.11,680.21 928.24,680.09 928.30,680.04 928.38,679.96 928.51,679.84 928.64,679.72 928.77,679.60 928.90,679.48 929.03,679.36 929.17,679.24 929.30,679.12 929.39,679.03 929.43,679.00 929.56,678.88 929.69,678.76 929.82,678.65 929.96,678.52 930.09,678.40 930.22,678.28 930.35,678.15 930.48,678.03 930.49,678.03 930.61,677.91 930.75,677.79 930.88,677.66 931.01,677.54 931.14,677.42 931.27,677.30 931.41,677.19 931.54,677.07 931.58,677.03 931.67,676.95 931.80,676.83 931.93,676.71 932.06,676.60 932.68,676.06 933.77,675.12 934.87,674.21 935.96,673.33 937.06,672.47 938.15,671.63 939.25,670.81 940.34,670.01 941.44,669.22 942.53,668.45 943.63,667.70 944.72,666.96 945.82,666.23 946.91,665.51 948.01,664.81 949.10,664.12 950.20,663.44 951.29,662.76 952.39,662.10 953.48,661.45 954.58,660.80 955.67,660.17 956.77,659.54 957.86,658.91 958.96,658.30 960.05,657.69 961.15,657.09 962.24,656.50 963.34,655.91 964.43,655.33 965.53,654.75 966.62,654.18 967.72,653.62 968.81,653.05 969.91,652.50 971.00,651.95 972.10,651.40 973.19,650.86 974.29,650.32 975.38,649.79 976.48,649.26 977.57,648.74 978.67,648.22 979.76,647.70 980.86,647.19 981.95,646.68 983.05,646.17 984.14,645.67 985.24,645.17 986.33,644.67 987.43,644.18 988.52,643.69 989.62,643.20 990.71,642.72 991.81,642.24 992.90,641.76 994.00,641.29 995.09,640.81 996.19,640.34 997.28,639.87 998.38,639.41 999.47,638.95 1000.57,638.49 1001.66,638.03 1002.76,637.57 1003.85,637.12 1004.95,636.67 1006.04,636.22 1007.14,635.77 1008.23,635.33 1009.33,634.88 1010.42,634.44 1011.52,634.00 1012.61,633.57 1013.71,633.13 1014.80,632.70 1015.90,632.27 1016.99,631.84 1018.09,631.41 1019.18,630.98 1020.28,630.56 1021.37,630.13 1022.47,629.71 1023.56,629.29 1024.66,628.87 1025.75,628.46 1026.85,628.04 1027.94,627.63 1029.04,627.22 1030.13,626.81 1031.23,626.40 1032.32,625.99 1033.42,625.58 1034.51,625.18 1035.61,624.77 1036.70,624.37 1037.80,623.97 1038.89,623.57 1039.99,623.17 1041.08,622.78 1042.18,622.38 1043.27,621.99 1044.37,621.59 1045.46,621.20 1046.56,620.81 1047.65,620.42 1048.75,620.03 1049.84,619.64 1050.94,619.26 1052.03,618.87 1053.13,618.49 1054.22,618.10 1055.32,617.72 1056.41,617.34 1057.51,616.96 1058.60,616.58 1059.70,616.20 1060.79,615.82 1061.89,615.45 1062.98,615.07 1064.08,614.70 1065.17,614.33 1066.27,613.95 1067.36,613.58 1068.46,613.21 1069.55,612.84 1070.65,612.47 1071.74,612.10 1072.84,611.74 1073.93,611.37 1075.03,611.01 1076.12,610.64 1077.22,610.28 1078.31,609.91 1079.41,609.55 1080.50,609.19 1081.60,608.83 1082.69,608.47 1083.79,608.11 1084.88,607.75 1085.98,607.40 1087.07,607.04 1088.17,606.68 1089.26,606.33 1090.36,605.97 1091.45,605.62 1092.55,605.27 1093.64,604.91 1094.74,604.56 1095.83,604.21 1096.93,603.86 1098.02,603.51 1099.12,603.16 1100.21,602.82 1101.31,602.47 1102.40,602.12 1103.50,601.77 1104.59,601.43 1105.69,601.08 1106.78,600.74 1107.88,600.40 1108.97,600.05 1110.07,599.71 1111.16,599.37 1112.26,599.03 1113.35,598.69 1114.45,598.35 1115.54,598.01 1116.64,597.67 1117.73,597.33 1118.83,596.99 1119.92,596.65 1121.02,596.32 1122.11,595.98 1123.21,595.65 1124.30,595.31" fill="none" stroke="#00880a" stroke-width="3.0" stroke-linejoin="round" stroke-linecap="butt"/>
<clipPath id="clip2"><rect x="687.40" y="498.60" width="436.90" height="304.80"/></clipPath>
<path d="M687.40,693.50V714.50M682.80,693.50H692.00M682.80,714.50H692.00M696.25,693.50V714.50M691.65,693.50H700.85M691.65,714.50H700.85M705.10,693.50V714.50M700.50,693.50H709.70M700.50,714.50H709.70M713.95,693.50V714.50M709.35,693.50H718.55M709.35,714.50H718.55M722.80,693.50V714.50M718.20,693.50H727.40M718.20,714.50H727.40M731.64,693.50V714.50M727.04,693.50H736.25M727.04,714.50H736.25M740.49,693.50V714.50M735.89,693.50H745.09M735.89,714.50H745.09M749.34,693.50V714.50M744.74,693.50H753.94M744.74,714.50H753.94M758.19,693.50V714.50M753.59,693.50H762.79M753.59,714.50H762.79M767.04,693.50V714.50M762.44,693.50H771.64M762.44,714.50H771.64M775.89,693.50V714.50M771.29,693.50H780.49M771.29,714.50H780.49M784.74,693.50V714.50M780.14,693.50H789.34M780.14,714.50H789.34M793.59,693.20V714.70M788.99,693.20H798.19M788.99,714.70H798.19M802.44,683.20V717.80M797.84,683.20H807.04M797.84,717.80H807.04M811.29,693.20V714.70M806.69,693.20H815.89M806.69,714.70H815.89M820.13,693.20V714.70M815.53,693.20H824.74M815.53,714.70H824.74M828.98,687.50V713.20M824.38,687.50H833.58M824.38,713.20H833.58M837.83,693.50V714.70M833.23,693.50H842.43M833.23,714.70H842.43M846.68,689.30V715.80M842.08,689.30H851.28M842.08,715.80H851.28M855.53,673.80V716.80M850.93,673.80H860.13M850.93,716.80H860.13M864.38,663.20V714.70M859.78,663.20H868.98M859.78,714.70H868.98M873.23,674.50V716.80M868.63,674.50H877.83M868.63,716.80H877.83M882.08,670.80V720.30M877.48,670.80H886.68M877.48,720.30H886.68M890.93,657.40V718.80M886.33,657.40H895.53M886.33,718.80H895.53M899.78,662.70V715.00M895.18,662.70H904.38M895.18,715.00H904.38M908.62,660.70V715.00M904.02,660.70H913.23M904.02,715.00H913.23M917.47,647.90V706.20M912.87,647.90H922.07M912.87,706.20H922.07M926.32,633.60V697.40M921.72,633.60H930.92M921.72,697.40H930.92M935.17,626.80V706.40M930.57,626.80H939.77M930.57,706.40H939.77M944.02,617.10V687.50M939.42,617.10H948.62M939.42,687.50H948.62M952.87,627.90V689.70M948.27,627.90H957.47M948.27,689.70H957.47M961.72,626.80V694.40M957.12,626.80H966.32M957.12,694.40H966.32M970.57,601.00V684.00M965.97,601.00H975.17M965.97,684.00H975.17M979.42,627.40V699.80M974.82,627.40H984.02M974.82,699.80H984.02M988.27,612.10V683.60M983.67,612.10H992.87M983.67,683.60H992.87M997.12,604.50V679.50M992.51,604.50H1001.72M992.51,679.50H1001.72M1005.96,604.50V672.80M1001.36,604.50H1010.56M1001.36,672.80H1010.56M1014.81,599.20V653.40M1010.21,599.20H1019.41M1010.21,653.40H1019.41M1023.66,592.30V674.10M1019.06,592.30H1028.26M1019.06,674.10H1028.26M1032.51,587.80V630.40M1027.91,587.80H1037.11M1027.91,630.40H1037.11M1041.36,598.60V639.90M1036.76,598.60H1045.96M1036.76,639.90H1045.96M1050.21,586.00V659.70M1045.61,586.00H1054.81M1045.61,659.70H1054.81M1059.06,590.90V624.30M1054.46,590.90H1063.66M1054.46,624.30H1063.66M1067.91,589.10V647.10M1063.31,589.10H1072.51M1063.31,647.10H1072.51M1076.76,584.80V623.80M1072.16,584.80H1081.36M1072.16,623.80H1081.36M1085.61,580.70V626.80M1081.01,580.70H1090.20M1081.01,626.80H1090.20M1094.45,578.90V617.50M1089.85,578.90H1099.05M1089.85,617.50H1099.05M1103.30,569.90V615.70M1098.70,569.90H1107.90M1098.70,615.70H1107.90M1112.15,572.60V623.20M1107.55,572.60H1116.75M1107.55,623.20H1116.75M1121.00,571.10V620.20M1116.40,571.10H1125.60M1116.40,620.20H1125.60" stroke="#0000ff" stroke-width="1.6" fill="none" clip-path="url(#clip2)"/>
<circle cx="687.40" cy="704.00" r="2.5" fill="#0000ff"/>
<circle cx="696.25" cy="704.00" r="2.5" fill="#0000ff"/>
<circle cx="705.10" cy="704.00" r="2.5" fill="#0000ff"/>
<circle cx="713.95" cy="704.00" r="2.5" fill="#0000ff"/>
<circle cx="722.80" cy="704.00" r="2.5" fill="#0000ff"/>
<circle cx="731.64" cy="704.00" r="2.5" fill="#0000ff"/>
<circle cx="740.49" cy="704.00" r="2.5" fill="#0000ff"/>
<circle cx="749.34" cy="704.00" r="2.5" fill="#0000ff"/>
<circle cx="758.19" cy="704.00" r="2.5" fill="#0000ff"/>
<circle cx="767.04" cy="704.00" r="2.5" fill="#0000ff"/>
<circle cx="775.89" cy="704.00" r="2.5" fill="#0000ff"/>
<circle cx="784.74" cy="704.00" r="2.5" fill="#0000ff"/>
<circle cx="793.59" cy="703.95" r="2.5" fill="#0000ff"/>
<circle cx="802.44" cy="700.50" r="2.5" fill="#0000ff"/>
<circle cx="811.29" cy="703.95" r="2.5" fill="#0000ff"/>
<circle cx="820.13" cy="703.95" r="2.5" fill="#0000ff"/>
<circle cx="828.98" cy="700.35" r="2.5" fill="#0000ff"/>
<circle cx="837.83" cy="704.10" r="2.5" fill="#0000ff"/>
<circle cx="846.68" cy="702.55" r="2.5" fill="#0000ff"/>
<circle cx="855.53" cy="695.30" r="2.5" fill="#0000ff"/>
<circle cx="864.38" cy="688.95" r="2.5" fill="#0000ff"/>
<circle cx="873.23" cy="695.65" r="2.5" fill="#0000ff"/>
<circle cx="882.08" cy="695.55" r="2.5" fill="#0000ff"/>
<circle cx="890.93" cy="688.10" r="2.5" fill="#0000ff"/>
<circle cx="899.78" cy="688.85" r="2.5" fill="#0000ff"/>
<circle cx="908.62" cy="687.85" r="2.5" fill="#0000ff"/>
<circle cx="917.47" cy="677.05" r="2.5" fill="#0000ff"/>
<circle cx="926.32" cy="665.50" r="2.5" fill="#0000ff"/>
<circle cx="935.17" cy="666.60" r="2.5" fill="#0000ff"/>
<circle cx="944.02" cy="652.30" r="2.5" fill="#0000ff"/>
<circle cx="952.87" cy="658.80" r="2.5" fill="#0000ff"/>
<circle cx="961.72" cy="660.60" r="2.5" fill="#0000ff"/>
<circle cx="970.57" cy="642.50" r="2.5" fill="#0000ff"/>
<circle cx="979.42" cy="663.60" r="2.5" fill="#0000ff"/>
<circle cx="988.27" cy="647.85" r="2.5" fill="#0000ff"/>
<circle cx="997.12" cy="642.00" r="2.5" fill="#0000ff"/>
<circle cx="1005.96" cy="638.65" r="2.5" fill="#0000ff"/>
<circle cx="1014.81" cy="626.30" r="2.5" fill="#0000ff"/>
<circle cx="1023.66" cy="633.20" r="2.5" fill="#0000ff"/>
<circle cx="1032.51" cy="609.10" r="2.5" fill="#0000ff"/>
<circle cx="1041.36" cy="619.25" r="2.5" fill="#0000ff"/>
<circle cx="1050.21" cy="622.85" r="2.5" fill="#0000ff"/>
<circle cx="1059.06" cy="607.60" r="2.5" fill="#0000ff"/>
<circle cx="1067.91" cy="618.10" r="2.5" fill="#0000ff"/>
<circle cx="1076.76" cy="604.30" r="2.5" fill="#0000ff"/>
<circle cx="1085.61" cy="603.75" r="2.5" fill="#0000ff"/>
<circle cx="1094.45" cy="598.20" r="2.5" fill="#0000ff"/>
<circle cx="1103.30" cy="592.80" r="2.5" fill="#0000ff"/>
<circle cx="1112.15" cy="597.90" r="2.5" fill="#0000ff"/>
<circle cx="1121.00" cy="595.65" r="2.5" fill="#0000ff"/>
<rect x="699.80" y="509.10" width="43.10" height="25.40" fill="#ff9900" stroke="#000" stroke-width="2.2"/>
<rect x="701.40" y="510.70" width="39.90" height="22.20" fill="none" stroke="#ffab10" stroke-width="1"/>
<text x="752.80" y="533.10" font-family="'Liberation Serif','Times New Roman',serif" font-size="33.5" text-anchor="start" font-weight="normal" style="" >D+S</text>
<text x="1025.50" y="530.30" font-family="'Liberation Serif','Times New Roman',serif" font-size="29" text-anchor="end" font-weight="normal" style="font-style:italic;" >K</text>
<text x="1025.50" y="565.70" font-family="'Liberation Serif','Times New Roman',serif" font-size="29" text-anchor="end" style="font-style:italic" textLength="61.6" lengthAdjust="spacingAndGlyphs">&#916;K/K</text>
<line x1="1013.60" y1="508.10" x2="1028.90" y2="508.10" stroke="#000" stroke-width="1.9"/>
<line x1="1013.60" y1="543.50" x2="1028.90" y2="543.50" stroke="#000" stroke-width="1.9"/>
<text x="1034.40" y="530.30" font-family="'Liberation Serif','Times New Roman',serif" font-size="29" text-anchor="start" font-weight="normal" style="font-style:italic;" >=</text>
<text x="1035.40" y="565.70" font-family="'Liberation Serif','Times New Roman',serif" font-size="29" text-anchor="start" font-weight="normal" style="font-style:italic;" >=</text>
<text x="1061.70" y="530.30" font-family="'Liberation Serif','Times New Roman',serif" font-size="29" text-anchor="start" font-weight="normal" style="font-style:italic;" >3</text>
<text x="1062.70" y="565.70" font-family="'Liberation Serif','Times New Roman',serif" font-size="29" text-anchor="start" font-weight="normal" style="font-style:italic;" >0.1</text>
<line x1="933.20" y1="739.80" x2="962.80" y2="739.80" stroke="#00880a" stroke-width="4.2"/>
<circle cx="947.70" cy="774.50" r="4.5" fill="#0000ff"/>
<text x="980.00" y="746.60" font-family="'Liberation Serif','Times New Roman',serif" font-size="28.5" text-anchor="start" font-weight="normal" style="" >Isotropic</text>
<text x="980.00" y="782.10" font-family="'Liberation Serif','Times New Roman',serif" font-size="28.5" text-anchor="start" font-weight="normal" style="" >&#916;W = 50%</text>
<text x="670.10" y="503.80" font-family="'Liberation Serif','Times New Roman',serif" font-size="29" text-anchor="end" font-weight="normal" style="" >150</text>
<text x="670.10" y="605.80" font-family="'Liberation Serif','Times New Roman',serif" font-size="29" text-anchor="end" font-weight="normal" style="" >140</text>
<text x="670.10" y="707.60" font-family="'Liberation Serif','Times New Roman',serif" font-size="29" text-anchor="end" font-weight="normal" style="" >130</text>
<text x="670.10" y="811.30" font-family="'Liberation Serif','Times New Roman',serif" font-size="29" text-anchor="end" font-weight="normal" style="" >120</text>
<text x="688.70" y="833.50" font-family="'Liberation Serif','Times New Roman',serif" font-size="29" text-anchor="middle" font-weight="normal" style="" >0</text>
<text x="771.20" y="833.50" font-family="'Liberation Serif','Times New Roman',serif" font-size="29" text-anchor="middle" font-weight="normal" style="" >0.2</text>
<text x="863.90" y="833.50" font-family="'Liberation Serif','Times New Roman',serif" font-size="29" text-anchor="middle" font-weight="normal" style="" >0.4</text>
<text x="949.90" y="833.50" font-family="'Liberation Serif','Times New Roman',serif" font-size="29" text-anchor="middle" font-weight="normal" style="" >0.6</text>
<text x="1035.40" y="833.50" font-family="'Liberation Serif','Times New Roman',serif" font-size="29" text-anchor="middle" font-weight="normal" style="" >0.8</text>
<text x="1124.00" y="833.50" font-family="'Liberation Serif','Times New Roman',serif" font-size="29" text-anchor="middle" font-weight="normal" style="" >1</text>
<text x="905.60" y="875.00" font-family="'Liberation Serif','Times New Roman',serif" font-size="36" text-anchor="middle" style="font-style:italic">K<tspan font-size="23" dy="6.4">rank</tspan></text>
<text transform="translate(610.20,647.30) rotate(-90)" x="0" y="0" font-family="'Liberation Serif','Times New Roman',serif" font-size="35" text-anchor="middle" style="font-style:italic">r [Hz]</text>
<line x1="1354.16" y1="68.40" x2="1354.16" y2="374.30" stroke="#2b2b2b" stroke-width="1.3"/>
<line x1="1441.62" y1="68.40" x2="1441.62" y2="374.30" stroke="#2b2b2b" stroke-width="1.3"/>
<line x1="1529.08" y1="68.40" x2="1529.08" y2="374.30" stroke="#2b2b2b" stroke-width="1.3"/>
<line x1="1616.54" y1="68.40" x2="1616.54" y2="374.30" stroke="#2b2b2b" stroke-width="1.3"/>
<line x1="1266.70" y1="221.35" x2="1704.00" y2="221.35" stroke="#2b2b2b" stroke-width="1.3"/>
<rect x="1507.40" y="206.30" width="185.20" height="167.20" fill="#fff"/>
<path d="M1310.43,68.40v4.2M1310.43,374.30v-4.2M1397.89,68.40v4.2M1397.89,374.30v-4.2M1485.35,68.40v4.2M1485.35,374.30v-4.2M1572.81,68.40v4.2M1572.81,374.30v-4.2M1660.27,68.40v4.2M1660.27,374.30v-4.2M1266.70,297.83h4.2M1704.00,297.83h-4.2M1266.70,144.88h4.2M1704.00,144.88h-4.2M1354.16,68.40v7.0M1354.16,374.30v-7.0M1441.62,68.40v7.0M1441.62,374.30v-7.0M1529.08,68.40v7.0M1529.08,374.30v-7.0M1616.54,68.40v7.0M1616.54,374.30v-7.0M1266.70,221.35h7.0M1704.00,221.35h-7.0" stroke="#333" stroke-width="1.3" fill="none"/>
<rect x="1266.70" y="68.40" width="437.30" height="305.90" fill="none" stroke="#333" stroke-width="1.5"/>
<line x1="1266.70" y1="124.60" x2="1704.00" y2="124.60" stroke="#ff0000" stroke-width="2.6"/>
<line x1="1266.70" y1="124.60" x2="1704.00" y2="124.60" stroke="#008000" stroke-width="2.6"/>
<line x1="1266.70" y1="124.60" x2="1704.00" y2="124.60" stroke="#0000ff" stroke-width="2.6"/>
<line x1="1266.70" y1="123.00" x2="1704.00" y2="123.00" stroke="#8e00d8" stroke-width="2.6"/>
<rect x="1274.80" y="82.40" width="43.30" height="24.70" fill="#d21f32" stroke="#000" stroke-width="2.2"/>
<rect x="1276.40" y="84.00" width="40.10" height="21.50" fill="none" stroke="#ff2a3e" stroke-width="1"/>
<text x="1327.30" y="106.00" font-family="'Liberation Serif','Times New Roman',serif" font-size="33.5" text-anchor="start" font-weight="normal" style="" >S</text>
<text x="1585.90" y="160.30" font-family="'Liberation Serif','Times New Roman',serif" font-size="29" text-anchor="end" font-weight="normal" style="font-style:italic;" >K</text>
<text x="1585.90" y="196.00" font-family="'Liberation Serif','Times New Roman',serif" font-size="29" text-anchor="end" style="font-style:italic" textLength="61.5" lengthAdjust="spacingAndGlyphs">&#916;K/K</text>
<line x1="1574.00" y1="138.10" x2="1589.30" y2="138.10" stroke="#000" stroke-width="1.9"/>
<line x1="1574.00" y1="173.80" x2="1589.30" y2="173.80" stroke="#000" stroke-width="1.9"/>
<text x="1594.80" y="160.30" font-family="'Liberation Serif','Times New Roman',serif" font-size="29" text-anchor="start" font-weight="normal" style="font-style:italic;" >=</text>
<text x="1596.30" y="196.00" font-family="'Liberation Serif','Times New Roman',serif" font-size="29" text-anchor="start" font-weight="normal" style="font-style:italic;" >=</text>
<text x="1623.60" y="160.30" font-family="'Liberation Serif','Times New Roman',serif" font-size="29" text-anchor="start" font-weight="normal" style="font-style:italic;" >12</text>
<text x="1623.10" y="196.00" font-family="'Liberation Serif','Times New Roman',serif" font-size="29" text-anchor="start" font-weight="normal" style="font-style:italic;" >0.1</text>
<line x1="1527.00" y1="231.10" x2="1562.20" y2="231.10" stroke="#ff0000" stroke-width="4.8"/>
<text x="1581.00" y="241.00" font-family="'Liberation Serif','Times New Roman',serif" font-size="28.5" text-anchor="start" font-weight="normal" style="" >N = 50</text>
<line x1="1527.00" y1="267.30" x2="1562.20" y2="267.30" stroke="#008000" stroke-width="4.8"/>
<text x="1581.00" y="277.20" font-family="'Liberation Serif','Times New Roman',serif" font-size="28.5" text-anchor="start" font-weight="normal" style="" >N = 100</text>
<line x1="1527.00" y1="303.50" x2="1562.20" y2="303.50" stroke="#0000ff" stroke-width="4.8"/>
<text x="1581.00" y="313.40" font-family="'Liberation Serif','Times New Roman',serif" font-size="28.5" text-anchor="start" font-weight="normal" style="" >N = 200</text>
<line x1="1527.00" y1="339.70" x2="1562.20" y2="339.70" stroke="#8e00d8" stroke-width="4.8"/>
<text x="1581.00" y="349.60" font-family="'Liberation Serif','Times New Roman',serif" font-size="28.5" text-anchor="start" font-weight="normal" style="" >N = 400</text>
<text x="1253.70" y="77.40" font-family="'Liberation Serif','Times New Roman',serif" font-size="29" text-anchor="end" font-weight="normal" style="" >200</text>
<text x="1253.70" y="231.10" font-family="'Liberation Serif','Times New Roman',serif" font-size="29" text-anchor="end" font-weight="normal" style="" >150</text>
<text x="1253.70" y="382.30" font-family="'Liberation Serif','Times New Roman',serif" font-size="29" text-anchor="end" font-weight="normal" style="" >100</text>
<text x="1266.80" y="406.50" font-family="'Liberation Serif','Times New Roman',serif" font-size="29" text-anchor="middle" font-weight="normal" style="" >0</text>
<text x="1348.80" y="406.50" font-family="'Liberation Serif','Times New Roman',serif" font-size="29" text-anchor="middle" font-weight="normal" style="" >0.2</text>
<text x="1442.00" y="406.50" font-family="'Liberation Serif','Times New Roman',serif" font-size="29" text-anchor="middle" font-weight="normal" style="" >0.4</text>
<text x="1527.30" y="406.50" font-family="'Liberation Serif','Times New Roman',serif" font-size="29" text-anchor="middle" font-weight="normal" style="" >0.6</text>
<text x="1613.30" y="406.50" font-family="'Liberation Serif','Times New Roman',serif" font-size="29" text-anchor="middle" font-weight="normal" style="" >0.8</text>
<text x="1701.10" y="406.50" font-family="'Liberation Serif','Times New Roman',serif" font-size="29" text-anchor="middle" font-weight="normal" style="" >1</text>
<text x="1484.40" y="448.40" font-family="'Liberation Serif','Times New Roman',serif" font-size="36" text-anchor="middle" style="font-style:italic">K<tspan font-size="23" dy="6.4">rank</tspan></text>
<text transform="translate(1196.20,222.20) rotate(-90)" x="0" y="0" font-family="'Liberation Serif','Times New Roman',serif" font-size="35" text-anchor="middle" style="font-style:italic">r [Hz]</text>
<line x1="1354.12" y1="498.60" x2="1354.12" y2="803.50" stroke="#2b2b2b" stroke-width="1.3"/>
<line x1="1441.64" y1="498.60" x2="1441.64" y2="803.50" stroke="#2b2b2b" stroke-width="1.3"/>
<line x1="1529.16" y1="498.60" x2="1529.16" y2="803.50" stroke="#2b2b2b" stroke-width="1.3"/>
<line x1="1616.68" y1="498.60" x2="1616.68" y2="803.50" stroke="#2b2b2b" stroke-width="1.3"/>
<line x1="1266.60" y1="651.05" x2="1704.20" y2="651.05" stroke="#2b2b2b" stroke-width="1.3"/>
<rect x="1497.00" y="682.00" width="193.00" height="77.70" fill="#fff"/>
<path d="M1310.36,498.60v4.2M1310.36,803.50v-4.2M1397.88,498.60v4.2M1397.88,803.50v-4.2M1485.40,498.60v4.2M1485.40,803.50v-4.2M1572.92,498.60v4.2M1572.92,803.50v-4.2M1660.44,498.60v4.2M1660.44,803.50v-4.2M1266.60,727.27h4.2M1704.20,727.27h-4.2M1266.60,574.83h4.2M1704.20,574.83h-4.2M1354.12,498.60v7.0M1354.12,803.50v-7.0M1441.64,498.60v7.0M1441.64,803.50v-7.0M1529.16,498.60v7.0M1529.16,803.50v-7.0M1616.68,498.60v7.0M1616.68,803.50v-7.0M1266.60,651.05h7.0M1704.20,651.05h-7.0" stroke="#333" stroke-width="1.3" fill="none"/>
<rect x="1266.60" y="498.60" width="437.60" height="304.90" fill="none" stroke="#333" stroke-width="1.5"/>
<line x1="1266.60" y1="554.2" x2="1704.20" y2="554.2" stroke="#00880a" stroke-width="3"/>
<clipPath id="clip3"><rect x="1266.60" y="498.60" width="437.60" height="304.90"/></clipPath>
<path d="M1266.60,551.80V553.80M1262.00,551.80H1271.20M1262.00,553.80H1271.20M1275.43,551.80V553.80M1270.84,551.80H1280.03M1270.84,553.80H1280.03M1284.27,551.80V553.80M1279.67,551.80H1288.87M1279.67,553.80H1288.87M1293.11,551.80V553.80M1288.51,551.80H1297.70M1288.51,553.80H1297.70M1301.94,551.80V553.80M1297.34,551.80H1306.54M1297.34,553.80H1306.54M1310.77,551.80V553.80M1306.17,551.80H1315.37M1306.17,553.80H1315.37M1319.61,551.80V553.80M1315.01,551.80H1324.21M1315.01,553.80H1324.21M1328.44,551.80V553.80M1323.85,551.80H1333.04M1323.85,553.80H1333.04M1337.28,551.80V553.80M1332.68,551.80H1341.88M1332.68,553.80H1341.88M1346.12,551.80V553.80M1341.52,551.80H1350.71M1341.52,553.80H1350.71M1354.95,551.80V553.80M1350.35,551.80H1359.55M1350.35,553.80H1359.55M1363.78,551.80V553.80M1359.18,551.80H1368.38M1359.18,553.80H1368.38M1372.62,551.80V553.80M1368.02,551.80H1377.22M1368.02,553.80H1377.22M1381.45,551.80V553.80M1376.86,551.80H1386.05M1376.86,553.80H1386.05M1390.29,551.80V553.80M1385.69,551.80H1394.89M1385.69,553.80H1394.89M1399.12,551.80V553.80M1394.53,551.80H1403.72M1394.53,553.80H1403.72M1407.96,551.80V553.80M1403.36,551.80H1412.56M1403.36,553.80H1412.56M1416.79,551.80V553.80M1412.19,551.80H1421.39M1412.19,553.80H1421.39M1425.63,551.80V553.80M1421.03,551.80H1430.23M1421.03,553.80H1430.23M1434.46,551.80V553.80M1429.87,551.80H1439.06M1429.87,553.80H1439.06M1443.30,551.80V553.80M1438.70,551.80H1447.90M1438.70,553.80H1447.90M1452.13,551.80V553.80M1447.54,551.80H1456.73M1447.54,553.80H1456.73M1460.97,551.80V553.80M1456.37,551.80H1465.57M1456.37,553.80H1465.57M1469.80,551.80V553.80M1465.20,551.80H1474.40M1465.20,553.80H1474.40M1478.64,551.80V553.80M1474.04,551.80H1483.24M1474.04,553.80H1483.24M1487.47,551.80V553.80M1482.88,551.80H1492.07M1482.88,553.80H1492.07M1496.31,551.80V553.80M1491.71,551.80H1500.91M1491.71,553.80H1500.91M1505.14,551.80V553.80M1500.55,551.80H1509.74M1500.55,553.80H1509.74M1513.98,551.80V553.80M1509.38,551.80H1518.58M1509.38,553.80H1518.58M1522.82,551.80V553.80M1518.22,551.80H1527.41M1518.22,553.80H1527.41M1531.65,551.72V553.80M1527.05,551.72H1536.25M1527.05,553.80H1536.25M1540.48,551.46V553.80M1535.88,551.46H1545.08M1535.88,553.80H1545.08M1549.32,551.20V553.80M1544.72,551.20H1553.92M1544.72,553.80H1553.92M1558.15,550.93V553.80M1553.56,550.93H1562.75M1553.56,553.80H1562.75M1566.99,550.67V553.80M1562.39,550.67H1571.59M1562.39,553.80H1571.59M1575.82,550.41V553.80M1571.22,550.41H1580.42M1571.22,553.80H1580.42M1584.66,550.15V553.80M1580.06,550.15H1589.26M1580.06,553.80H1589.26M1593.49,549.88V553.80M1588.89,549.88H1598.09M1588.89,553.80H1598.09M1602.33,549.62V553.80M1597.73,549.62H1606.93M1597.73,553.80H1606.93M1611.16,549.36V553.80M1606.57,549.36H1615.76M1606.57,553.80H1615.76M1620.00,548.31V553.66M1615.40,548.31H1624.60M1615.40,553.66H1624.60M1628.84,548.35V553.88M1624.24,548.35H1633.43M1624.24,553.88H1633.43M1637.67,548.67V554.17M1633.07,548.67H1642.27M1633.07,554.17H1642.27M1646.50,548.21V553.22M1641.90,548.21H1651.10M1641.90,553.22H1651.10M1655.34,547.27V553.22M1650.74,547.27H1659.94M1650.74,553.22H1659.94M1664.17,547.07V553.78M1659.58,547.07H1668.77M1659.58,553.78H1668.77M1673.01,547.00V552.79M1668.41,547.00H1677.61M1668.41,552.79H1677.61M1681.85,545.87V553.27M1677.25,545.87H1686.44M1677.25,553.27H1686.44M1690.68,545.80V552.73M1686.08,545.80H1695.28M1686.08,552.73H1695.28M1699.51,546.49V553.00M1694.91,546.49H1704.11M1694.91,553.00H1704.11" stroke="#0000ff" stroke-width="1.6" fill="none" clip-path="url(#clip3)"/>
<circle cx="1266.60" cy="552.80" r="2.5" fill="#0000ff"/>
<circle cx="1275.43" cy="552.80" r="2.5" fill="#0000ff"/>
<circle cx="1284.27" cy="552.80" r="2.5" fill="#0000ff"/>
<circle cx="1293.11" cy="552.80" r="2.5" fill="#0000ff"/>
<circle cx="1301.94" cy="552.80" r="2.5" fill="#0000ff"/>
<circle cx="1310.77" cy="552.80" r="2.5" fill="#0000ff"/>
<circle cx="1319.61" cy="552.80" r="2.5" fill="#0000ff"/>
<circle cx="1328.44" cy="552.80" r="2.5" fill="#0000ff"/>
<circle cx="1337.28" cy="552.80" r="2.5" fill="#0000ff"/>
<circle cx="1346.12" cy="552.80" r="2.5" fill="#0000ff"/>
<circle cx="1354.95" cy="552.80" r="2.5" fill="#0000ff"/>
<circle cx="1363.78" cy="552.80" r="2.5" fill="#0000ff"/>
<circle cx="1372.62" cy="552.80" r="2.5" fill="#0000ff"/>
<circle cx="1381.45" cy="552.80" r="2.5" fill="#0000ff"/>
<circle cx="1390.29" cy="552.80" r="2.5" fill="#0000ff"/>
<circle cx="1399.12" cy="552.80" r="2.5" fill="#0000ff"/>
<circle cx="1407.96" cy="552.80" r="2.5" fill="#0000ff"/>
<circle cx="1416.79" cy="552.80" r="2.5" fill="#0000ff"/>
<circle cx="1425.63" cy="552.80" r="2.5" fill="#0000ff"/>
<circle cx="1434.46" cy="552.80" r="2.5" fill="#0000ff"/>
<circle cx="1443.30" cy="552.80" r="2.5" fill="#0000ff"/>
<circle cx="1452.13" cy="552.80" r="2.5" fill="#0000ff"/>
<circle cx="1460.97" cy="552.80" r="2.5" fill="#0000ff"/>
<circle cx="1469.80" cy="552.80" r="2.5" fill="#0000ff"/>
<circle cx="1478.64" cy="552.80" r="2.5" fill="#0000ff"/>
<circle cx="1487.47" cy="552.80" r="2.5" fill="#0000ff"/>
<circle cx="1496.31" cy="552.80" r="2.5" fill="#0000ff"/>
<circle cx="1505.14" cy="552.80" r="2.5" fill="#0000ff"/>
<circle cx="1513.98" cy="552.80" r="2.5" fill="#0000ff"/>
<circle cx="1522.82" cy="552.80" r="2.5" fill="#0000ff"/>
<circle cx="1531.65" cy="552.76" r="2.5" fill="#0000ff"/>
<circle cx="1540.48" cy="552.63" r="2.5" fill="#0000ff"/>
<circle cx="1549.32" cy="552.50" r="2.5" fill="#0000ff"/>
<circle cx="1558.15" cy="552.37" r="2.5" fill="#0000ff"/>
<circle cx="1566.99" cy="552.24" r="2.5" fill="#0000ff"/>
<circle cx="1575.82" cy="552.10" r="2.5" fill="#0000ff"/>
<circle cx="1584.66" cy="551.97" r="2.5" fill="#0000ff"/>
<circle cx="1593.49" cy="551.84" r="2.5" fill="#0000ff"/>
<circle cx="1602.33" cy="551.71" r="2.5" fill="#0000ff"/>
<circle cx="1611.16" cy="551.58" r="2.5" fill="#0000ff"/>
<circle cx="1620.00" cy="550.98" r="2.5" fill="#0000ff"/>
<circle cx="1628.84" cy="551.11" r="2.5" fill="#0000ff"/>
<circle cx="1637.67" cy="551.42" r="2.5" fill="#0000ff"/>
<circle cx="1646.50" cy="550.71" r="2.5" fill="#0000ff"/>
<circle cx="1655.34" cy="550.25" r="2.5" fill="#0000ff"/>
<circle cx="1664.17" cy="550.42" r="2.5" fill="#0000ff"/>
<circle cx="1673.01" cy="549.89" r="2.5" fill="#0000ff"/>
<circle cx="1681.85" cy="549.57" r="2.5" fill="#0000ff"/>
<circle cx="1690.68" cy="549.26" r="2.5" fill="#0000ff"/>
<circle cx="1699.51" cy="549.75" r="2.5" fill="#0000ff"/>
<rect x="1274.80" y="509.40" width="43.30" height="24.80" fill="#d21f32" stroke="#000" stroke-width="2.2"/>
<rect x="1276.40" y="511.00" width="40.10" height="21.60" fill="none" stroke="#ff2a3e" stroke-width="1"/>
<text x="1327.30" y="533.10" font-family="'Liberation Serif','Times New Roman',serif" font-size="33.5" text-anchor="start" font-weight="normal" style="" >S</text>
<text x="1585.90" y="602.20" font-family="'Liberation Serif','Times New Roman',serif" font-size="29" text-anchor="end" font-weight="normal" style="font-style:italic;" >K</text>
<text x="1585.90" y="637.40" font-family="'Liberation Serif','Times New Roman',serif" font-size="29" text-anchor="end" style="font-style:italic" textLength="61.5" lengthAdjust="spacingAndGlyphs">&#916;K/K</text>
<line x1="1574.00" y1="580.00" x2="1589.30" y2="580.00" stroke="#000" stroke-width="1.9"/>
<line x1="1574.00" y1="615.20" x2="1589.30" y2="615.20" stroke="#000" stroke-width="1.9"/>
<text x="1594.80" y="602.20" font-family="'Liberation Serif','Times New Roman',serif" font-size="29" text-anchor="start" font-weight="normal" style="font-style:italic;" >=</text>
<text x="1596.30" y="637.40" font-family="'Liberation Serif','Times New Roman',serif" font-size="29" text-anchor="start" font-weight="normal" style="font-style:italic;" >=</text>
<text x="1623.10" y="602.20" font-family="'Liberation Serif','Times New Roman',serif" font-size="29" text-anchor="start" font-weight="normal" style="font-style:italic;" >12</text>
<text x="1623.10" y="637.40" font-family="'Liberation Serif','Times New Roman',serif" font-size="29" text-anchor="start" font-weight="normal" style="font-style:italic;" >0.1</text>
<line x1="1507.40" y1="703.90" x2="1537.70" y2="703.90" stroke="#00880a" stroke-width="4.2"/>
<circle cx="1522.80" cy="738.10" r="4.5" fill="#0000ff"/>
<text x="1554.50" y="711.50" font-family="'Liberation Serif','Times New Roman',serif" font-size="28.5" text-anchor="start" font-weight="normal" style="" >Isotropic</text>
<text x="1554.50" y="746.50" font-family="'Liberation Serif','Times New Roman',serif" font-size="28.5" text-anchor="start" font-weight="normal" style="" >&#916;W = 50%</text>
<text x="1253.70" y="505.50" font-family="'Liberation Serif','Times New Roman',serif" font-size="29" text-anchor="end" font-weight="normal" style="" >200</text>
<text x="1253.70" y="660.30" font-family="'Liberation Serif','Times New Roman',serif" font-size="29" text-anchor="end" font-weight="normal" style="" >150</text>
<text x="1253.70" y="811.50" font-family="'Liberation Serif','Times New Roman',serif" font-size="29" text-anchor="end" font-weight="normal" style="" >100</text>
<text x="1266.70" y="833.50" font-family="'Liberation Serif','Times New Roman',serif" font-size="29" text-anchor="middle" font-weight="normal" style="" >0</text>
<text x="1348.70" y="833.50" font-family="'Liberation Serif','Times New Roman',serif" font-size="29" text-anchor="middle" font-weight="normal" style="" >0.2</text>
<text x="1441.90" y="833.50" font-family="'Liberation Serif','Times New Roman',serif" font-size="29" text-anchor="middle" font-weight="normal" style="" >0.4</text>
<text x="1527.20" y="833.50" font-family="'Liberation Serif','Times New Roman',serif" font-size="29" text-anchor="middle" font-weight="normal" style="" >0.6</text>
<text x="1613.20" y="833.50" font-family="'Liberation Serif','Times New Roman',serif" font-size="29" text-anchor="middle" font-weight="normal" style="" >0.8</text>
<text x="1701.00" y="833.50" font-family="'Liberation Serif','Times New Roman',serif" font-size="29" text-anchor="middle" font-weight="normal" style="" >1</text>
<text x="1484.40" y="875.00" font-family="'Liberation Serif','Times New Roman',serif" font-size="36" text-anchor="middle" style="font-style:italic">K<tspan font-size="23" dy="6.4">rank</tspan></text>
<text transform="translate(1196.20,649.30) rotate(-90)" x="0" y="0" font-family="'Liberation Serif','Times New Roman',serif" font-size="35" text-anchor="middle" style="font-style:italic">r [Hz]</text>
</svg></body></html>
